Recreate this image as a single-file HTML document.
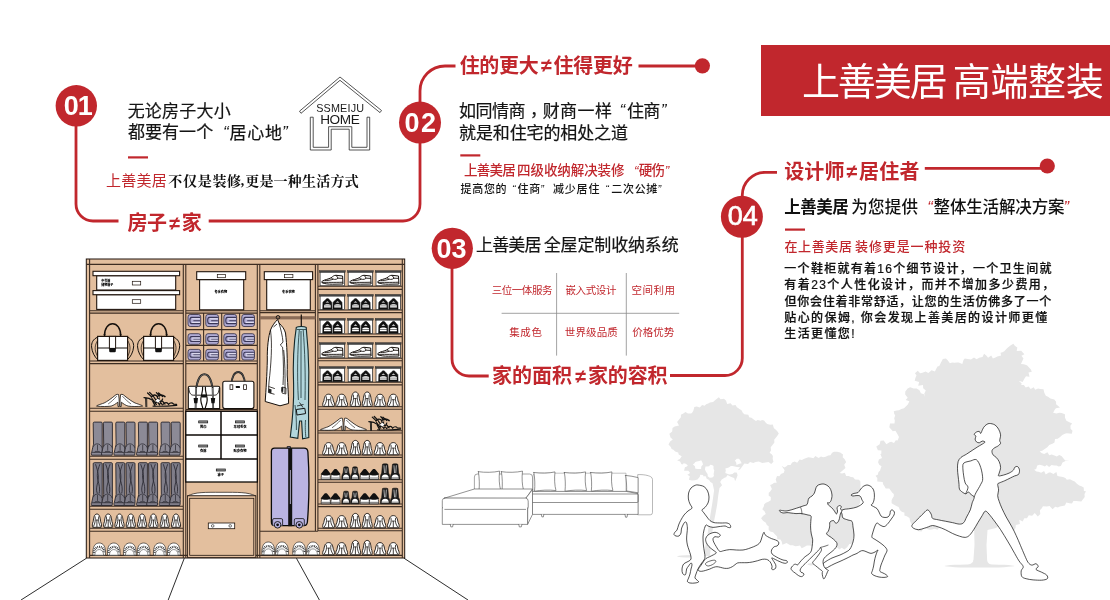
<!DOCTYPE html>
<html lang="zh-CN">
<head>
<meta charset="utf-8">
<title>上善美居 高端整装</title>
<style>
html,body{margin:0;padding:0;background:#fff;}
body{width:1110px;height:600px;overflow:hidden;position:relative;font-family:'Liberation Sans','Noto Sans CJK SC',sans-serif;}
svg{position:absolute;left:0;top:0;display:block;will-change:transform;}
text{font-family:'Liberation Sans','Noto Sans CJK SC',sans-serif;}
.serif{font-family:'Liberation Serif','Noto Serif CJK SC',serif;}
.red{fill:#c1272d;}
.num{fill:#fff;font-weight:700;font-size:25px;text-anchor:middle;}
.h{fill:#c1272d;font-weight:700;font-size:20.2px;}
</style>
</head>
<body>
<svg width="1110" height="600" viewBox="0 0 1110 600">
<rect width="1110" height="600" fill="#fff"/>

<rect x="761" y="45" width="349" height="71" fill="#c1272d"/>
<g fill="none" stroke="#c1272d" stroke-width="2.8">
<path d="M76 106 V204 A17 17 0 0 0 93 221 H118.5"/>
<path d="M208.7 221 H403 A17 17 0 0 0 420 204 V91 A25 25 0 0 1 445 66 H455.5"/>
<path d="M638.5 66 H702"/>
<path d="M452 248 V359 A17 17 0 0 0 469 376 H488.7"/>
<path d="M670 375.5 H725 A17.3 17.3 0 0 0 742.3 358 V195 A23 23 0 0 1 765 172.3 H777"/>
<path d="M924.8 168.3 H1047"/>
</g>
<g fill="#c1272d">
<circle cx="76.3" cy="105.8" r="20.7"/>
<circle cx="420" cy="122.6" r="21"/>
<circle cx="452.3" cy="248.3" r="20.6"/>
<circle cx="741.9" cy="216.8" r="21"/>
<circle cx="702.4" cy="65.8" r="7.6"/>
<circle cx="1047.3" cy="166" r="7.6"/>
<rect x="128" y="156.3" width="20" height="2.2"/>
<rect x="460.3" y="154.3" width="20" height="2.2"/>
<rect x="785" y="228.5" width="20" height="2.2"/>
</g>
<text><tspan x="801.90" y="95.45" font-size="38" letter-spacing="-2.02" fill="#fff">上善美居 </tspan><tspan x="952.75" y="95.32" font-size="38" letter-spacing="-0.33" fill="#fff">高端整装</tspan></text>
<text><tspan x="127.65" y="116.75" font-size="17" letter-spacing="0.23" fill="#141414" stroke="#141414" stroke-width="0.2">无论房子大小</tspan></text>
<text><tspan x="127.90" y="138.45" font-size="17" letter-spacing="0.06" fill="#141414" stroke="#141414" stroke-width="0.2">都要有一个</tspan><tspan x="222.95" y="138.30" font-size="17" font-style="italic" fill="#141414">“</tspan><tspan x="229.60" y="138.50" font-size="17" letter-spacing="0.67" fill="#141414" stroke="#141414" stroke-width="0.2">居心地</tspan><tspan x="281.95" y="138.30" font-size="17" font-style="italic" fill="#141414">”</tspan></text>
<text><tspan x="106.05" y="186.00" font-size="15" letter-spacing="0.22" fill="#c1272d">上善美居 </tspan><tspan x="168.30" y="185.50" font-size="14" font-weight="700" class="serif" letter-spacing="0.70" fill="#111">不仅是装修</tspan><tspan x="240.75" y="185.30" font-size="14" font-weight="700" class="serif" fill="#111">,</tspan><tspan x="245.15" y="185.62" font-size="14" font-weight="700" class="serif" letter-spacing="0.24" fill="#111">更是一种生活方式</tspan></text>
<text><tspan x="458.95" y="117.15" font-size="17" letter-spacing="-0.45" fill="#141414" stroke="#141414" stroke-width="0.2">如同情商</tspan><tspan x="530.10" y="116.30" font-size="17" fill="#141414" stroke="#141414" stroke-width="0.2">，</tspan><tspan x="542.65" y="117.15" font-size="17" letter-spacing="0.45" fill="#141414" stroke="#141414" stroke-width="0.2">财商一样</tspan><tspan x="619.55" y="116.30" font-size="17" font-style="italic" fill="#141414">“</tspan><tspan x="626.95" y="117.15" font-size="17" letter-spacing="-0.65" fill="#141414" stroke="#141414" stroke-width="0.2">住商</tspan><tspan x="660.65" y="116.30" font-size="17" font-style="italic" fill="#141414">”</tspan></text>
<text><tspan x="459.00" y="138.93" font-size="17" letter-spacing="-0.11" fill="#141414" stroke="#141414" stroke-width="0.2">就是和住宅的相处之道</tspan></text>
<text><tspan x="463.95" y="175.15" font-size="13.5" font-weight="500" letter-spacing="-0.77" fill="#c1272d">上善美居 </tspan><tspan x="517.10" y="174.90" font-size="13.5" font-weight="500" letter-spacing="-0.09" fill="#c1272d">四级收纳解决装修</tspan><tspan x="633.90" y="175.30" font-size="13.5" font-style="italic" fill="#c1272d">“</tspan><tspan x="638.70" y="174.90" font-size="13.5" font-weight="500" letter-spacing="-0.70" fill="#c1272d">硬伤</tspan><tspan x="664.70" y="175.30" font-size="13.5" font-style="italic" fill="#c1272d">”</tspan></text>
<text><tspan x="460.55" y="192.62" font-size="11" font-weight="500" letter-spacing="0.67" fill="#141414">提高您的</tspan><tspan x="511.95" y="192.50" font-size="11" font-style="italic" fill="#141414">“</tspan><tspan x="517.60" y="192.62" font-size="11" font-weight="500" letter-spacing="0.60" fill="#141414">住商</tspan><tspan x="540.20" y="192.50" font-size="11" font-style="italic" fill="#141414">”</tspan><tspan x="552.90" y="192.62" font-size="11" font-weight="500" letter-spacing="0.85" fill="#141414">减少居住</tspan><tspan x="605.35" y="192.50" font-size="11" font-style="italic" fill="#141414">“</tspan><tspan x="611.20" y="192.62" font-size="11" font-weight="500" letter-spacing="0.72" fill="#141414">二次公摊</tspan><tspan x="657.60" y="192.50" font-size="11" font-style="italic" fill="#141414">”</tspan></text>
<text><tspan x="476.05" y="251.15" font-size="17" letter-spacing="-0.85" fill="#141414" stroke="#141414" stroke-width="0.2">上善美居 </tspan><tspan x="543.70" y="251.15" font-size="17" letter-spacing="-0.14" fill="#141414" stroke="#141414" stroke-width="0.2">全屋定制收纳系统</tspan></text>
<text><tspan x="491.65" y="293.80" font-size="10.5" letter-spacing="-0.43" fill="#c1272d">三位一体服务</tspan></text>
<text><tspan x="565.50" y="293.68" font-size="10.5" letter-spacing="-0.38" fill="#c1272d">嵌入式设计</tspan></text>
<text><tspan x="631.45" y="293.80" font-size="10.5" letter-spacing="0.53" fill="#c1272d">空间利用</tspan></text>
<text><tspan x="509.30" y="336.00" font-size="10.5" letter-spacing="0.55" fill="#c1272d">集成色</tspan></text>
<text><tspan x="564.80" y="336.00" font-size="10.5" letter-spacing="0.12" fill="#c1272d">世界级品质</tspan></text>
<text><tspan x="632.20" y="335.88" font-size="10.5" fill="#c1272d">价格优势</tspan></text>
<text><tspan x="784.25" y="212.90" font-size="16.5" font-weight="700" letter-spacing="-0.48" fill="#111">上善美居 </tspan><tspan x="851.20" y="213.02" font-size="16.5" font-weight="500" letter-spacing="0.30" fill="#111">为您提供</tspan><tspan x="927.25" y="213.00" font-size="16.5" font-style="italic" fill="#c1272d">“</tspan><tspan x="933.55" y="213.02" font-size="16.5" font-weight="500" letter-spacing="-0.15" fill="#111">整体生活解决方案</tspan><tspan x="1063.55" y="213.00" font-size="16.5" font-style="italic" fill="#c1272d">”</tspan></text>
<text><tspan x="784.40" y="250.50" font-size="13" font-weight="500" letter-spacing="0.66" fill="#c1272d">在上善美居 </tspan><tspan x="855.00" y="250.50" font-size="13" font-weight="500" letter-spacing="0.88" fill="#c1272d">装修更是一种投资</tspan></text>
<text><tspan x="784.30" y="273.20" font-size="12" font-weight="500" letter-spacing="1.29" fill="#111" stroke="#111" stroke-width="0.22">一个鞋柜就有着16个细节设计，一个卫生间就</tspan><tspan x="784.30" y="289.40" font-size="12" font-weight="500" letter-spacing="1.43" fill="#111" stroke="#111" stroke-width="0.22">有着23个人性化设计，而并不增加多少费用，</tspan><tspan x="784.55" y="305.60" font-size="12" font-weight="500" letter-spacing="0.73" fill="#111" stroke="#111" stroke-width="0.22">但你会住着非常舒适，让您的生活仿佛多了一个</tspan><tspan x="784.30" y="321.80" font-size="12" font-weight="500" letter-spacing="1.41" fill="#111" stroke="#111" stroke-width="0.22">贴心的保姆, 你会发现上善美居的设计师更懂</tspan><tspan x="784.30" y="338.00" font-size="12" font-weight="500" letter-spacing="1.37" fill="#111" stroke="#111" stroke-width="0.22">生活更懂您!</tspan></text>
<text><tspan x="316.20" y="111.82" font-size="10.8" letter-spacing="0.18" fill="#1a1a1a">SSMEIJU</tspan></text>
<text><tspan x="320.20" y="124.20" font-size="13.6" letter-spacing="-0.42" fill="#1a1a1a">HOME</tspan></text>
<text><tspan x="63.80" y="114.55" font-size="27" font-weight="700" fill="#fff">0</tspan><tspan x="77.75" y="114.55" font-size="27" font-weight="700" fill="#fff">1</tspan></text>
<text><tspan x="404.40" y="131.75" font-size="27" font-weight="700" letter-spacing="1.50" fill="#fff">02</tspan></text>
<text><tspan x="436.60" y="257.65" font-size="27" font-weight="700" letter-spacing="-0.10" fill="#fff">03</tspan></text>
<text><tspan x="727.80" y="225.20" font-size="27" letter-spacing="-0.15" fill="#fff" stroke="#fff" stroke-width="0.7">04</tspan></text>
<text><tspan x="127.50" y="229.88" font-size="20" font-weight="700" letter-spacing="-0.55" fill="#c1272d">房子</tspan><tspan x="168.80" y="229.90" font-size="19.5" font-weight="700" font-style="italic" fill="#c1272d">≠</tspan><tspan x="181.70" y="230.00" font-size="20" font-weight="700" fill="#c1272d">家</tspan></text>
<text><tspan x="459.70" y="73.08" font-size="20" font-weight="700" letter-spacing="-0.35" fill="#c1272d">住的更大</tspan><tspan x="540.50" y="72.40" font-size="19.5" font-weight="700" font-style="italic" fill="#c1272d">≠</tspan><tspan x="553.50" y="73.08" font-size="20" font-weight="700" letter-spacing="-0.27" fill="#c1272d">住得更好</tspan></text>
<text><tspan x="492.00" y="383.10" font-size="20" font-weight="700" letter-spacing="-0.03" fill="#c1272d">家的面积</tspan><tspan x="574.70" y="382.50" font-size="19.5" font-weight="700" font-style="italic" fill="#c1272d">≠</tspan><tspan x="587.90" y="383.10" font-size="20" font-weight="700" letter-spacing="-0.13" fill="#c1272d">家的容积</tspan></text>
<text><tspan x="784.25" y="178.58" font-size="20" font-weight="700" letter-spacing="0.12" fill="#c1272d">设计师</tspan><tspan x="845.90" y="178.20" font-size="19.5" font-weight="700" font-style="italic" fill="#c1272d">≠</tspan><tspan x="858.90" y="178.58" font-size="20" font-weight="700" letter-spacing="0.30" fill="#c1272d">居住者</tspan></text>
<g stroke="#8c8c8c" stroke-width="0.8" fill="none"><path d="M556.6 273V355.6M626.3 273V355.6M501.6 313.3H679.2"/></g>
<g fill="#fff" stroke="#2a2a2a" stroke-width="0.8" stroke-linejoin="miter">
<path d="M340 77 L381.5 110.5 L380 112.6 L340 80.3 L301 113.3 L299.5 111.2 Z"/>
<path d="M310.3 117.2 V150 H331.2 V129.2 H349.2 V150 H369.7 V117.2 H367 V147.3 H351.8 V126.7 H328.6 V147.3 H313.2 V117.2 Z"/>
</g>
<g id="wardrobe" stroke-linejoin="miter">
<rect x="86.3" y="259" width="318.4" height="299" fill="#e3bf9e" stroke="#20150e" stroke-width="1.0"/>
<path d="M86.3 264.4 H404.7 M89.6 259 V558 M402.3 259 V558 M89.6 555.4 H402.3 M183.3 264.4 V558 M185.8 264.4 V558 M257.3 264.4 V558 M259.8 264.4 V558 M315.4 264.4 V531.3 M317.9 264.4 V531.3 M89.6 310.7 H183.3 M89.6 313.1 H183.3 M89.6 361 H183.3 M89.6 363.6 H183.3 M89.6 408.2 H183.3 M89.6 411.2 H183.3 M89.6 456.2 H183.3 M89.6 459.2 H183.3 M89.6 506.3 H183.3 M89.6 509.3 H183.3 M89.6 528.2 H183.3 M89.6 531.2 H183.3 M185.8 310.7 H257.3 M185.8 313.1 H257.3 M185.8 361 H257.3 M185.8 363.6 H257.3 M185.8 409.6 H257.3 M185.8 329.6 H257.3 M185.8 345.4 H257.3 M203.6 313.1 V361 M221.7 313.1 V361 M239.6 313.1 V361 M259.8 310.7 H315.4 M259.8 312.6 H315.4 M259.8 531.3 H317.9 M317.9 286.2 H402.3 M317.9 289.4 H402.3 M317.9 310 H402.3 M317.9 312.6 H402.3 M317.9 334 H402.3 M317.9 336.6 H402.3 M317.9 358.2 H402.3 M317.9 360.8 H402.3 M317.9 382.3 H402.3 M317.9 384.9 H402.3 M317.9 406.8 H402.3 M317.9 409.2 H402.3 M317.9 430.8 H402.3 M317.9 433 H402.3 M317.9 455 H402.3 M317.9 457.4 H402.3 M317.9 479.7 H402.3 M317.9 482.2 H402.3 M317.9 504 H402.3 M317.9 506.6 H402.3 M317.9 528.2 H402.3 M317.9 530.8 H402.3" fill="none" stroke="#3d2d22" stroke-width="1.1"/>
<rect x="259.8" y="316.2" width="55.6" height="3.2" fill="#8b6c57"/>
<rect x="96.7" y="275.7" width="79" height="14.3" fill="#fff" stroke="#20150e" stroke-width="1.1"/><rect x="93" y="271.3" width="86.6" height="4.4" fill="#fff" stroke="#20150e" stroke-width="1.1"/><rect x="132.3" y="281.3" width="8.4" height="3.7" fill="#fff" stroke="#20150e" stroke-width="0.7"/>
<text font-size="3" font-weight="900" fill="#000"><tspan x="101.3" y="282.4">中号箱</tspan><tspan x="101.3" y="286.2">储物箱子</tspan></text>
<rect x="96.7" y="294.7" width="79" height="14.7" fill="#fff" stroke="#20150e" stroke-width="1.1"/><rect x="93" y="290.6" width="86.6" height="4.1" fill="#fff" stroke="#20150e" stroke-width="1.1"/><rect x="132.3" y="299.7" width="8.4" height="3.6" fill="#fff" stroke="#20150e" stroke-width="0.7"/>
<rect x="199.6" y="279.6" width="44.1" height="30.2" fill="#fff" stroke="#20150e" stroke-width="1.1"/><rect x="196.7" y="271.7" width="49" height="7.9" fill="#fff" stroke="#20150e" stroke-width="1.1"/><rect x="217.3" y="274.4" width="8.3" height="3.3" fill="#fff" stroke="#20150e" stroke-width="0.7"/><text x="220.8" y="293.4" font-size="3.2" font-weight="900" fill="#000" text-anchor="middle">冬季衣物</text>
<rect x="266.7" y="279.6" width="43.6" height="30.2" fill="#fff" stroke="#20150e" stroke-width="1.1"/><rect x="264.3" y="271.7" width="48.3" height="7.9" fill="#fff" stroke="#20150e" stroke-width="1.1"/><rect x="284.6" y="274.4" width="8.3" height="3.3" fill="#fff" stroke="#20150e" stroke-width="0.7"/><text x="288.4" y="293.4" font-size="3.2" font-weight="900" fill="#000" text-anchor="middle">冬季衣物</text>
<path d="M97.6 337.2 C93.1 339 91.2 343 91.6 347 C92 352 94.6 357 97.6 359.4 M127.6 337.2 C132.1 339 134 343 133.6 347 C133.2 352 130.6 357 127.6 359.4" fill="none" stroke="#15100c" stroke-width="1.0"/><path d="M97.6 340.5 C94.8 345 94 350 97.6 356.5 M127.6 340.5 C130.4 345 131.2 350 127.6 356.5" fill="none" stroke="#15100c" stroke-width="0.7"/><path d="M104.5 336.2 C104.1 319.6 121.1 319.6 120.7 336.2" fill="none" stroke="#15100c" stroke-width="1.5"/><path d="M103.5 334.6 H105.5 M119.7 334.6 H121.7" fill="none" stroke="#15100c" stroke-width="0.8"/><rect x="97.6" y="336.4" width="30" height="24" fill="#fff" stroke="#20150e" stroke-width="1.2"/><path d="M97.6 348 H127.6" fill="none" stroke="#15100c" stroke-width="1.0"/><rect x="109.4" y="336.4" width="6.2" height="12" fill="#fff" stroke="#20150e" stroke-width="1.0"/><rect x="109.2" y="348" width="6.6" height="4.2" rx="1.2" fill="#111"/>
<path d="M143.6 337.2 C139.1 339 137.2 343 137.6 347 C138 352 140.6 357 143.6 359.4 M173.6 337.2 C178.1 339 180 343 179.6 347 C179.2 352 176.6 357 173.6 359.4" fill="none" stroke="#15100c" stroke-width="1.0"/><path d="M143.6 340.5 C140.8 345 140 350 143.6 356.5 M173.6 340.5 C176.4 345 177.2 350 173.6 356.5" fill="none" stroke="#15100c" stroke-width="0.7"/><path d="M150.5 336.2 C150.1 319.6 167.1 319.6 166.7 336.2" fill="none" stroke="#15100c" stroke-width="1.5"/><path d="M149.5 334.6 H151.5 M165.7 334.6 H167.7" fill="none" stroke="#15100c" stroke-width="0.8"/><rect x="143.6" y="336.4" width="30" height="24" fill="#fff" stroke="#20150e" stroke-width="1.2"/><path d="M143.6 348 H173.6" fill="none" stroke="#15100c" stroke-width="1.0"/><rect x="155.4" y="336.4" width="6.2" height="12" fill="#fff" stroke="#20150e" stroke-width="1.0"/><rect x="155.2" y="348" width="6.6" height="4.2" rx="1.2" fill="#111"/>
<g transform="translate(96.5 406.6)"><g><path d="M0 -0.5 C0.4 -1.2 3 -2 7.6 -3.6 C10.5 -5 14 -7.4 19.4 -11.8 Q20.6 -12.6 22.1 -12.1 C22.6 -9 22.7 -6 22.7 -3.6 L22.7 0 H21.5 L21.3 -4.4 C19.5 -3 17.2 -1.2 14.6 -0.5 C11 0 5 0.1 0 -0.5 Z" fill="#fff" stroke="#15100c" stroke-width="0.8"/><path d="M11.6 -2.6 C14.5 -4.6 17.5 -7.4 20.3 -10.4" fill="none" stroke="#15100c" stroke-width="0.6"/></g><g transform="translate(46.2 0) scale(-1 1)"><path d="M0 -0.5 C0.4 -1.2 3 -2 7.6 -3.6 C10.5 -5 14 -7.4 19.4 -11.8 Q20.6 -12.6 22.1 -12.1 C22.6 -9 22.7 -6 22.7 -3.6 L22.7 0 H21.5 L21.3 -4.4 C19.5 -3 17.2 -1.2 14.6 -0.5 C11 0 5 0.1 0 -0.5 Z" fill="#fff" stroke="#15100c" stroke-width="0.8"/><path d="M11.6 -2.6 C14.5 -4.6 17.5 -7.4 20.3 -10.4" fill="none" stroke="#15100c" stroke-width="0.6"/></g></g>
<g transform="translate(144 407)" fill="none" stroke="#111" stroke-linecap="round"><path d="M0 -9.4 L5 -8.6 L8 -7" stroke-width="1.2"/><path d="M1.6 -9 L1.9 -0.3 M2.7 -8.8 L2.8 -0.3" stroke-width="0.9"/><path d="M3.6 -14 L7.4 -10.4 M5.6 -14.6 L9.6 -10.6 M12.4 -14.4 L15.6 -11 M14.6 -14 L18.6 -10.4" stroke-width="1.3"/><path d="M7.4 -10 C9 -12.4 11.6 -12.6 13.4 -10.4 C15 -12.6 18.4 -12.6 21 -10.4" stroke-width="1.5"/><path d="M8 -8.4 L12.4 -2.6 M10 -9.6 L15.6 -2 M13.4 -9.4 L18.4 -2.2 M11 -3 L15.4 -9 M15.6 -2.6 L18.6 -8 M8.6 -6 L11 -1.2 M18 -6.4 L21 -3" stroke-width="1.2"/><path d="M19.4 -2.8 C21 -5.2 23.4 -4.8 24.6 -2.6 C26 -4.6 28.4 -4.4 29.6 -2.8 L32.6 -2.6" stroke-width="1.2"/><path d="M9 -0.9 C16 -0.4 26 -1 32.8 -1.6" stroke-width="1.1"/><path d="M11 -6 L14 -4 L16.6 -6.4 L14 -8.4 Z" fill="#fff" stroke-width="0.5"/></g>
<g transform="translate(93.1 422.1)"><path d="M0.1 1.1 Q0.1 0 1.2 0 H8 Q9.1 0 9.1 1.1 V27.1 C9.3 29.1 9.2 31.1 8.8 33.1 L-1.5 33.1 C-2 31.5 -1.8 30.5 -1.3 29.9 C-0.8 27.1 0 24.1 0.4 22.1 Z" fill="#8c8a96" stroke="#26252c" stroke-width="0.9"/><path d="M0.3 24.6 C1.5 20.6 7 20.6 8.9 25.6 M-1.2 30.3 H8.8 M4.4 22.6 V28.5 M1.6 30.3 L2.2 29.3 H6.2 L6.8 30.3" fill="none" stroke="#26252c" stroke-width="0.7"/></g>
<g transform="translate(103.3 422.1)"><path d="M0.1 1.1 Q0.1 0 1.2 0 H8 Q9.1 0 9.1 1.1 V27.1 C9.3 29.1 9.2 31.1 8.8 33.1 L-1.5 33.1 C-2 31.5 -1.8 30.5 -1.3 29.9 C-0.8 27.1 0 24.1 0.4 22.1 Z" fill="#8c8a96" stroke="#26252c" stroke-width="0.9"/><path d="M0.3 24.6 C1.5 20.6 7 20.6 8.9 25.6 M-1.2 30.3 H8.8 M4.4 22.6 V28.5 M1.6 30.3 L2.2 29.3 H6.2 L6.8 30.3" fill="none" stroke="#26252c" stroke-width="0.7"/></g>
<g transform="translate(115.7 422.1)"><path d="M0.1 1.1 Q0.1 0 1.2 0 H8 Q9.1 0 9.1 1.1 V27.1 C9.3 29.1 9.2 31.1 8.8 33.1 L-1.5 33.1 C-2 31.5 -1.8 30.5 -1.3 29.9 C-0.8 27.1 0 24.1 0.4 22.1 Z" fill="#8c8a96" stroke="#26252c" stroke-width="0.9"/><path d="M0.3 24.6 C1.5 20.6 7 20.6 8.9 25.6 M-1.2 30.3 H8.8 M4.4 22.6 V28.5 M1.6 30.3 L2.2 29.3 H6.2 L6.8 30.3" fill="none" stroke="#26252c" stroke-width="0.7"/></g>
<g transform="translate(125.9 422.1)"><path d="M0.1 1.1 Q0.1 0 1.2 0 H8 Q9.1 0 9.1 1.1 V27.1 C9.3 29.1 9.2 31.1 8.8 33.1 L-1.5 33.1 C-2 31.5 -1.8 30.5 -1.3 29.9 C-0.8 27.1 0 24.1 0.4 22.1 Z" fill="#8c8a96" stroke="#26252c" stroke-width="0.9"/><path d="M0.3 24.6 C1.5 20.6 7 20.6 8.9 25.6 M-1.2 30.3 H8.8 M4.4 22.6 V28.5 M1.6 30.3 L2.2 29.3 H6.2 L6.8 30.3" fill="none" stroke="#26252c" stroke-width="0.7"/></g>
<g transform="translate(138.3 422.1)"><path d="M0.1 1.1 Q0.1 0 1.2 0 H8 Q9.1 0 9.1 1.1 V27.1 C9.3 29.1 9.2 31.1 8.8 33.1 L-1.5 33.1 C-2 31.5 -1.8 30.5 -1.3 29.9 C-0.8 27.1 0 24.1 0.4 22.1 Z" fill="#8c8a96" stroke="#26252c" stroke-width="0.9"/><path d="M0.3 24.6 C1.5 20.6 7 20.6 8.9 25.6 M-1.2 30.3 H8.8 M4.4 22.6 V28.5 M1.6 30.3 L2.2 29.3 H6.2 L6.8 30.3" fill="none" stroke="#26252c" stroke-width="0.7"/></g>
<g transform="translate(148.5 422.1)"><path d="M0.1 1.1 Q0.1 0 1.2 0 H8 Q9.1 0 9.1 1.1 V27.1 C9.3 29.1 9.2 31.1 8.8 33.1 L-1.5 33.1 C-2 31.5 -1.8 30.5 -1.3 29.9 C-0.8 27.1 0 24.1 0.4 22.1 Z" fill="#8c8a96" stroke="#26252c" stroke-width="0.9"/><path d="M0.3 24.6 C1.5 20.6 7 20.6 8.9 25.6 M-1.2 30.3 H8.8 M4.4 22.6 V28.5 M1.6 30.3 L2.2 29.3 H6.2 L6.8 30.3" fill="none" stroke="#26252c" stroke-width="0.7"/></g>
<g transform="translate(160.9 422.1)"><path d="M0.1 1.1 Q0.1 0 1.2 0 H8 Q9.1 0 9.1 1.1 V27.1 C9.3 29.1 9.2 31.1 8.8 33.1 L-1.5 33.1 C-2 31.5 -1.8 30.5 -1.3 29.9 C-0.8 27.1 0 24.1 0.4 22.1 Z" fill="#8c8a96" stroke="#26252c" stroke-width="0.9"/><path d="M0.3 24.6 C1.5 20.6 7 20.6 8.9 25.6 M-1.2 30.3 H8.8 M4.4 22.6 V28.5 M1.6 30.3 L2.2 29.3 H6.2 L6.8 30.3" fill="none" stroke="#26252c" stroke-width="0.7"/></g>
<g transform="translate(171.1 422.1)"><path d="M0.1 1.1 Q0.1 0 1.2 0 H8 Q9.1 0 9.1 1.1 V27.1 C9.3 29.1 9.2 31.1 8.8 33.1 L-1.5 33.1 C-2 31.5 -1.8 30.5 -1.3 29.9 C-0.8 27.1 0 24.1 0.4 22.1 Z" fill="#8c8a96" stroke="#26252c" stroke-width="0.9"/><path d="M0.3 24.6 C1.5 20.6 7 20.6 8.9 25.6 M-1.2 30.3 H8.8 M4.4 22.6 V28.5 M1.6 30.3 L2.2 29.3 H6.2 L6.8 30.3" fill="none" stroke="#26252c" stroke-width="0.7"/></g>
<g transform="translate(93.1 462.7)"><path d="M0.1 1.1 Q0.1 0 1.2 0 H8 Q9.1 0 9.1 1.1 V36.8 C9.3 38.8 9.2 40.8 8.8 42.8 L-1.5 42.8 C-2 41.2 -1.8 40.2 -1.3 39.6 C-0.8 36.8 0 33.8 0.4 31.8 Z" fill="#7f7d89" stroke="#26252c" stroke-width="0.9"/><path d="M0.3 34.3 C1.5 30.3 7 30.3 8.9 35.3 M-1.2 40 H8.8 M4.4 32.3 V38.2 M1.6 40 L2.2 39 H6.2 L6.8 40" fill="none" stroke="#26252c" stroke-width="0.7"/><path d="M2.4 1.5 C5.2 9.42 6.2 14.55 4 22.26 C3 26.54 3.4 29.1 4.4 30.8 M6.8 1.5 C4.2 8.56 3.2 12.84 5.6 20.54 C6.8 24.82 6.6 28.25 6 30.8" fill="none" stroke="#2e2d36" stroke-width="0.9"/></g>
<g transform="translate(103.3 462.7)"><path d="M0.1 1.1 Q0.1 0 1.2 0 H8 Q9.1 0 9.1 1.1 V36.8 C9.3 38.8 9.2 40.8 8.8 42.8 L-1.5 42.8 C-2 41.2 -1.8 40.2 -1.3 39.6 C-0.8 36.8 0 33.8 0.4 31.8 Z" fill="#7f7d89" stroke="#26252c" stroke-width="0.9"/><path d="M0.3 34.3 C1.5 30.3 7 30.3 8.9 35.3 M-1.2 40 H8.8 M4.4 32.3 V38.2 M1.6 40 L2.2 39 H6.2 L6.8 40" fill="none" stroke="#26252c" stroke-width="0.7"/><path d="M2.4 1.5 C5.2 9.42 6.2 14.55 4 22.26 C3 26.54 3.4 29.1 4.4 30.8 M6.8 1.5 C4.2 8.56 3.2 12.84 5.6 20.54 C6.8 24.82 6.6 28.25 6 30.8" fill="none" stroke="#2e2d36" stroke-width="0.9"/></g>
<g transform="translate(115.7 462.7)"><path d="M0.1 1.1 Q0.1 0 1.2 0 H8 Q9.1 0 9.1 1.1 V36.8 C9.3 38.8 9.2 40.8 8.8 42.8 L-1.5 42.8 C-2 41.2 -1.8 40.2 -1.3 39.6 C-0.8 36.8 0 33.8 0.4 31.8 Z" fill="#7f7d89" stroke="#26252c" stroke-width="0.9"/><path d="M0.3 34.3 C1.5 30.3 7 30.3 8.9 35.3 M-1.2 40 H8.8 M4.4 32.3 V38.2 M1.6 40 L2.2 39 H6.2 L6.8 40" fill="none" stroke="#26252c" stroke-width="0.7"/><path d="M2.4 1.5 C5.2 9.42 6.2 14.55 4 22.26 C3 26.54 3.4 29.1 4.4 30.8 M6.8 1.5 C4.2 8.56 3.2 12.84 5.6 20.54 C6.8 24.82 6.6 28.25 6 30.8" fill="none" stroke="#2e2d36" stroke-width="0.9"/></g>
<g transform="translate(125.9 462.7)"><path d="M0.1 1.1 Q0.1 0 1.2 0 H8 Q9.1 0 9.1 1.1 V36.8 C9.3 38.8 9.2 40.8 8.8 42.8 L-1.5 42.8 C-2 41.2 -1.8 40.2 -1.3 39.6 C-0.8 36.8 0 33.8 0.4 31.8 Z" fill="#7f7d89" stroke="#26252c" stroke-width="0.9"/><path d="M0.3 34.3 C1.5 30.3 7 30.3 8.9 35.3 M-1.2 40 H8.8 M4.4 32.3 V38.2 M1.6 40 L2.2 39 H6.2 L6.8 40" fill="none" stroke="#26252c" stroke-width="0.7"/><path d="M2.4 1.5 C5.2 9.42 6.2 14.55 4 22.26 C3 26.54 3.4 29.1 4.4 30.8 M6.8 1.5 C4.2 8.56 3.2 12.84 5.6 20.54 C6.8 24.82 6.6 28.25 6 30.8" fill="none" stroke="#2e2d36" stroke-width="0.9"/></g>
<g transform="translate(138.3 462.7)"><path d="M0.1 1.1 Q0.1 0 1.2 0 H8 Q9.1 0 9.1 1.1 V36.8 C9.3 38.8 9.2 40.8 8.8 42.8 L-1.5 42.8 C-2 41.2 -1.8 40.2 -1.3 39.6 C-0.8 36.8 0 33.8 0.4 31.8 Z" fill="#7f7d89" stroke="#26252c" stroke-width="0.9"/><path d="M0.3 34.3 C1.5 30.3 7 30.3 8.9 35.3 M-1.2 40 H8.8 M4.4 32.3 V38.2 M1.6 40 L2.2 39 H6.2 L6.8 40" fill="none" stroke="#26252c" stroke-width="0.7"/><path d="M2.4 1.5 C5.2 9.42 6.2 14.55 4 22.26 C3 26.54 3.4 29.1 4.4 30.8 M6.8 1.5 C4.2 8.56 3.2 12.84 5.6 20.54 C6.8 24.82 6.6 28.25 6 30.8" fill="none" stroke="#2e2d36" stroke-width="0.9"/></g>
<g transform="translate(148.5 462.7)"><path d="M0.1 1.1 Q0.1 0 1.2 0 H8 Q9.1 0 9.1 1.1 V36.8 C9.3 38.8 9.2 40.8 8.8 42.8 L-1.5 42.8 C-2 41.2 -1.8 40.2 -1.3 39.6 C-0.8 36.8 0 33.8 0.4 31.8 Z" fill="#7f7d89" stroke="#26252c" stroke-width="0.9"/><path d="M0.3 34.3 C1.5 30.3 7 30.3 8.9 35.3 M-1.2 40 H8.8 M4.4 32.3 V38.2 M1.6 40 L2.2 39 H6.2 L6.8 40" fill="none" stroke="#26252c" stroke-width="0.7"/><path d="M2.4 1.5 C5.2 9.42 6.2 14.55 4 22.26 C3 26.54 3.4 29.1 4.4 30.8 M6.8 1.5 C4.2 8.56 3.2 12.84 5.6 20.54 C6.8 24.82 6.6 28.25 6 30.8" fill="none" stroke="#2e2d36" stroke-width="0.9"/></g>
<g transform="translate(160.9 462.7)"><path d="M0.1 1.1 Q0.1 0 1.2 0 H8 Q9.1 0 9.1 1.1 V36.8 C9.3 38.8 9.2 40.8 8.8 42.8 L-1.5 42.8 C-2 41.2 -1.8 40.2 -1.3 39.6 C-0.8 36.8 0 33.8 0.4 31.8 Z" fill="#7f7d89" stroke="#26252c" stroke-width="0.9"/><path d="M0.3 34.3 C1.5 30.3 7 30.3 8.9 35.3 M-1.2 40 H8.8 M4.4 32.3 V38.2 M1.6 40 L2.2 39 H6.2 L6.8 40" fill="none" stroke="#26252c" stroke-width="0.7"/><path d="M2.4 1.5 C5.2 9.42 6.2 14.55 4 22.26 C3 26.54 3.4 29.1 4.4 30.8 M6.8 1.5 C4.2 8.56 3.2 12.84 5.6 20.54 C6.8 24.82 6.6 28.25 6 30.8" fill="none" stroke="#2e2d36" stroke-width="0.9"/></g>
<g transform="translate(171.1 462.7)"><path d="M0.1 1.1 Q0.1 0 1.2 0 H8 Q9.1 0 9.1 1.1 V36.8 C9.3 38.8 9.2 40.8 8.8 42.8 L-1.5 42.8 C-2 41.2 -1.8 40.2 -1.3 39.6 C-0.8 36.8 0 33.8 0.4 31.8 Z" fill="#7f7d89" stroke="#26252c" stroke-width="0.9"/><path d="M0.3 34.3 C1.5 30.3 7 30.3 8.9 35.3 M-1.2 40 H8.8 M4.4 32.3 V38.2 M1.6 40 L2.2 39 H6.2 L6.8 40" fill="none" stroke="#26252c" stroke-width="0.7"/><path d="M2.4 1.5 C5.2 9.42 6.2 14.55 4 22.26 C3 26.54 3.4 29.1 4.4 30.8 M6.8 1.5 C4.2 8.56 3.2 12.84 5.6 20.54 C6.8 24.82 6.6 28.25 6 30.8" fill="none" stroke="#2e2d36" stroke-width="0.9"/></g>
<g transform="translate(92.3 514)"><path d="M4.6 0 C7.36 0 7.91 3.99 8.28 7.32 C9.38 9.98 9.38 12.24 8.83 13.3 L0.37 13.3 C-0.18 12.24 -0.18 9.98 0.92 7.32 C1.29 3.99 1.84 0 4.6 0 Z" fill="#fff" stroke="#15100c" stroke-width="0.9"/><path d="M2.76 2.39 C3.31 6.65 2.76 9.31 1.1 12.63 M6.44 2.39 C5.89 6.65 6.44 9.31 8.1 12.63 M3.5 5.99 H5.7 M4.6 5.99 V13.03" fill="none" stroke="#15100c" stroke-width="0.8"/></g>
<g transform="translate(103.6 514)"><path d="M4.6 0 C7.36 0 7.91 3.99 8.28 7.32 C9.38 9.98 9.38 12.24 8.83 13.3 L0.37 13.3 C-0.18 12.24 -0.18 9.98 0.92 7.32 C1.29 3.99 1.84 0 4.6 0 Z" fill="#fff" stroke="#15100c" stroke-width="0.9"/><path d="M2.76 2.39 C3.31 6.65 2.76 9.31 1.1 12.63 M6.44 2.39 C5.89 6.65 6.44 9.31 8.1 12.63 M3.5 5.99 H5.7 M4.6 5.99 V13.03" fill="none" stroke="#15100c" stroke-width="0.8"/></g>
<g transform="translate(114.9 514)"><path d="M4.6 0 C7.36 0 7.91 3.99 8.28 7.32 C9.38 9.98 9.38 12.24 8.83 13.3 L0.37 13.3 C-0.18 12.24 -0.18 9.98 0.92 7.32 C1.29 3.99 1.84 0 4.6 0 Z" fill="#fff" stroke="#15100c" stroke-width="0.9"/><path d="M2.76 2.39 C3.31 6.65 2.76 9.31 1.1 12.63 M6.44 2.39 C5.89 6.65 6.44 9.31 8.1 12.63 M3.5 5.99 H5.7 M4.6 5.99 V13.03" fill="none" stroke="#15100c" stroke-width="0.8"/></g>
<g transform="translate(126.2 514)"><path d="M4.6 0 C7.36 0 7.91 3.99 8.28 7.32 C9.38 9.98 9.38 12.24 8.83 13.3 L0.37 13.3 C-0.18 12.24 -0.18 9.98 0.92 7.32 C1.29 3.99 1.84 0 4.6 0 Z" fill="#fff" stroke="#15100c" stroke-width="0.9"/><path d="M2.76 2.39 C3.31 6.65 2.76 9.31 1.1 12.63 M6.44 2.39 C5.89 6.65 6.44 9.31 8.1 12.63 M3.5 5.99 H5.7 M4.6 5.99 V13.03" fill="none" stroke="#15100c" stroke-width="0.8"/></g>
<g transform="translate(137.5 514)"><path d="M4.6 0 C7.36 0 7.91 3.99 8.28 7.32 C9.38 9.98 9.38 12.24 8.83 13.3 L0.37 13.3 C-0.18 12.24 -0.18 9.98 0.92 7.32 C1.29 3.99 1.84 0 4.6 0 Z" fill="#fff" stroke="#15100c" stroke-width="0.9"/><path d="M2.76 2.39 C3.31 6.65 2.76 9.31 1.1 12.63 M6.44 2.39 C5.89 6.65 6.44 9.31 8.1 12.63 M3.5 5.99 H5.7 M4.6 5.99 V13.03" fill="none" stroke="#15100c" stroke-width="0.8"/></g>
<g transform="translate(148.8 514)"><path d="M4.6 0 C7.36 0 7.91 3.99 8.28 7.32 C9.38 9.98 9.38 12.24 8.83 13.3 L0.37 13.3 C-0.18 12.24 -0.18 9.98 0.92 7.32 C1.29 3.99 1.84 0 4.6 0 Z" fill="#fff" stroke="#15100c" stroke-width="0.9"/><path d="M2.76 2.39 C3.31 6.65 2.76 9.31 1.1 12.63 M6.44 2.39 C5.89 6.65 6.44 9.31 8.1 12.63 M3.5 5.99 H5.7 M4.6 5.99 V13.03" fill="none" stroke="#15100c" stroke-width="0.8"/></g>
<g transform="translate(160.1 514)"><path d="M4.6 0 C7.36 0 7.91 3.99 8.28 7.32 C9.38 9.98 9.38 12.24 8.83 13.3 L0.37 13.3 C-0.18 12.24 -0.18 9.98 0.92 7.32 C1.29 3.99 1.84 0 4.6 0 Z" fill="#fff" stroke="#15100c" stroke-width="0.9"/><path d="M2.76 2.39 C3.31 6.65 2.76 9.31 1.1 12.63 M6.44 2.39 C5.89 6.65 6.44 9.31 8.1 12.63 M3.5 5.99 H5.7 M4.6 5.99 V13.03" fill="none" stroke="#15100c" stroke-width="0.8"/></g>
<g transform="translate(171.4 514)"><path d="M4.6 0 C7.36 0 7.91 3.99 8.28 7.32 C9.38 9.98 9.38 12.24 8.83 13.3 L0.37 13.3 C-0.18 12.24 -0.18 9.98 0.92 7.32 C1.29 3.99 1.84 0 4.6 0 Z" fill="#fff" stroke="#15100c" stroke-width="0.9"/><path d="M2.76 2.39 C3.31 6.65 2.76 9.31 1.1 12.63 M6.44 2.39 C5.89 6.65 6.44 9.31 8.1 12.63 M3.5 5.99 H5.7 M4.6 5.99 V13.03" fill="none" stroke="#15100c" stroke-width="0.8"/></g>
<g transform="translate(92.7 543)"><path d="M0.2 12.2 C-0.39 3.66 2.34 0 6.5 0 C10.66 0 13.39 3.66 12.8 12.2 Z" fill="#fff" stroke="#111" stroke-width="0.6"/><path d="M1.3 9.76 C1.3 1.95 11.7 1.95 11.7 9.76" fill="none" stroke="#2a2a2a" stroke-width="2.3" stroke-dasharray="0.8 0.9"/><path d="M2.08 12.2 C2.21 4.64 10.79 4.64 10.92 12.2 Z" fill="#fff" stroke="#222" stroke-width="0.5"/></g>
<g transform="translate(107.3 543)"><path d="M0.2 12.2 C-0.39 3.66 2.34 0 6.5 0 C10.66 0 13.39 3.66 12.8 12.2 Z" fill="#fff" stroke="#111" stroke-width="0.6"/><path d="M1.3 9.76 C1.3 1.95 11.7 1.95 11.7 9.76" fill="none" stroke="#2a2a2a" stroke-width="2.3" stroke-dasharray="0.8 0.9"/><path d="M2.08 12.2 C2.21 4.64 10.79 4.64 10.92 12.2 Z" fill="#fff" stroke="#222" stroke-width="0.5"/></g>
<g transform="translate(123.3 543)"><path d="M0.2 12.2 C-0.39 3.66 2.34 0 6.5 0 C10.66 0 13.39 3.66 12.8 12.2 Z" fill="#fff" stroke="#111" stroke-width="0.6"/><path d="M1.3 9.76 C1.3 1.95 11.7 1.95 11.7 9.76" fill="none" stroke="#2a2a2a" stroke-width="2.3" stroke-dasharray="0.8 0.9"/><path d="M2.08 12.2 C2.21 4.64 10.79 4.64 10.92 12.2 Z" fill="#fff" stroke="#222" stroke-width="0.5"/></g>
<g transform="translate(137.1 543)"><path d="M0.2 12.2 C-0.39 3.66 2.34 0 6.5 0 C10.66 0 13.39 3.66 12.8 12.2 Z" fill="#fff" stroke="#111" stroke-width="0.6"/><path d="M1.3 9.76 C1.3 1.95 11.7 1.95 11.7 9.76" fill="none" stroke="#2a2a2a" stroke-width="2.3" stroke-dasharray="0.8 0.9"/><path d="M2.08 12.2 C2.21 4.64 10.79 4.64 10.92 12.2 Z" fill="#fff" stroke="#222" stroke-width="0.5"/></g>
<g transform="translate(153.3 543)"><path d="M0.2 12.2 C-0.39 3.66 2.34 0 6.5 0 C10.66 0 13.39 3.66 12.8 12.2 Z" fill="#fff" stroke="#111" stroke-width="0.6"/><path d="M1.3 9.76 C1.3 1.95 11.7 1.95 11.7 9.76" fill="none" stroke="#2a2a2a" stroke-width="2.3" stroke-dasharray="0.8 0.9"/><path d="M2.08 12.2 C2.21 4.64 10.79 4.64 10.92 12.2 Z" fill="#fff" stroke="#222" stroke-width="0.5"/></g>
<g transform="translate(167.3 543)"><path d="M0.2 12.2 C-0.39 3.66 2.34 0 6.5 0 C10.66 0 13.39 3.66 12.8 12.2 Z" fill="#fff" stroke="#111" stroke-width="0.6"/><path d="M1.3 9.76 C1.3 1.95 11.7 1.95 11.7 9.76" fill="none" stroke="#2a2a2a" stroke-width="2.3" stroke-dasharray="0.8 0.9"/><path d="M2.08 12.2 C2.21 4.64 10.79 4.64 10.92 12.2 Z" fill="#fff" stroke="#222" stroke-width="0.5"/></g>
<g transform="translate(188 314.5)"><rect x="0" y="0" width="12.7" height="12" rx="2.2" ry="2.4" fill="#b1acd4" stroke="#2c2a44" stroke-width="0.8"/><path d="M12.1 2.9 H3.4 Q1.9 2.9 1.9 6 Q1.9 9.1 3.4 9.1 H12.1 M12.1 6.2 H5.4" fill="none" stroke="#3a3758" stroke-width="1.1"/><path d="M11.9 4.3 H4.2 M11.9 7.9 H4.2" fill="none" stroke="#ecebf7" stroke-width="0.9"/></g>
<g transform="translate(205.8 314.5)"><rect x="0" y="0" width="12.7" height="12" rx="2.2" ry="2.4" fill="#b1acd4" stroke="#2c2a44" stroke-width="0.8"/><path d="M12.1 2.9 H3.4 Q1.9 2.9 1.9 6 Q1.9 9.1 3.4 9.1 H12.1 M12.1 6.2 H5.4" fill="none" stroke="#3a3758" stroke-width="1.1"/><path d="M11.9 4.3 H4.2 M11.9 7.9 H4.2" fill="none" stroke="#ecebf7" stroke-width="0.9"/></g>
<g transform="translate(223.9 314.5)"><rect x="0" y="0" width="12.7" height="12" rx="2.2" ry="2.4" fill="#b1acd4" stroke="#2c2a44" stroke-width="0.8"/><path d="M12.1 2.9 H3.4 Q1.9 2.9 1.9 6 Q1.9 9.1 3.4 9.1 H12.1 M12.1 6.2 H5.4" fill="none" stroke="#3a3758" stroke-width="1.1"/><path d="M11.9 4.3 H4.2 M11.9 7.9 H4.2" fill="none" stroke="#ecebf7" stroke-width="0.9"/></g>
<g transform="translate(241.8 314.5)"><rect x="0" y="0" width="12.7" height="12" rx="2.2" ry="2.4" fill="#b1acd4" stroke="#2c2a44" stroke-width="0.8"/><path d="M12.1 2.9 H3.4 Q1.9 2.9 1.9 6 Q1.9 9.1 3.4 9.1 H12.1 M12.1 6.2 H5.4" fill="none" stroke="#3a3758" stroke-width="1.1"/><path d="M11.9 4.3 H4.2 M11.9 7.9 H4.2" fill="none" stroke="#ecebf7" stroke-width="0.9"/></g>
<g transform="translate(188 333.7)"><rect x="0" y="0" width="12.7" height="10.6" rx="2.2" ry="2.4" fill="#b1acd4" stroke="#2c2a44" stroke-width="0.8"/><path d="M12.1 2.9 H3.4 Q1.9 2.9 1.9 5.3 Q1.9 7.7 3.4 7.7 H12.1 M12.1 5.5 H5.4" fill="none" stroke="#3a3758" stroke-width="1.1"/><path d="M11.9 4.3 H4.2 M11.9 6.5 H4.2" fill="none" stroke="#ecebf7" stroke-width="0.9"/></g>
<g transform="translate(205.8 333.7)"><rect x="0" y="0" width="12.7" height="10.6" rx="2.2" ry="2.4" fill="#b1acd4" stroke="#2c2a44" stroke-width="0.8"/><path d="M12.1 2.9 H3.4 Q1.9 2.9 1.9 5.3 Q1.9 7.7 3.4 7.7 H12.1 M12.1 5.5 H5.4" fill="none" stroke="#3a3758" stroke-width="1.1"/><path d="M11.9 4.3 H4.2 M11.9 6.5 H4.2" fill="none" stroke="#ecebf7" stroke-width="0.9"/></g>
<g transform="translate(223.9 333.7)"><rect x="0" y="0" width="12.7" height="10.6" rx="2.2" ry="2.4" fill="#b1acd4" stroke="#2c2a44" stroke-width="0.8"/><path d="M12.1 2.9 H3.4 Q1.9 2.9 1.9 5.3 Q1.9 7.7 3.4 7.7 H12.1 M12.1 5.5 H5.4" fill="none" stroke="#3a3758" stroke-width="1.1"/><path d="M11.9 4.3 H4.2 M11.9 6.5 H4.2" fill="none" stroke="#ecebf7" stroke-width="0.9"/></g>
<g transform="translate(241.8 333.7)"><rect x="0" y="0" width="12.7" height="10.6" rx="2.2" ry="2.4" fill="#b1acd4" stroke="#2c2a44" stroke-width="0.8"/><path d="M12.1 2.9 H3.4 Q1.9 2.9 1.9 5.3 Q1.9 7.7 3.4 7.7 H12.1 M12.1 5.5 H5.4" fill="none" stroke="#3a3758" stroke-width="1.1"/><path d="M11.9 4.3 H4.2 M11.9 6.5 H4.2" fill="none" stroke="#ecebf7" stroke-width="0.9"/></g>
<g transform="translate(188 349.4)"><rect x="0" y="0" width="12.7" height="10.6" rx="2.2" ry="2.4" fill="#b1acd4" stroke="#2c2a44" stroke-width="0.8"/><path d="M12.1 2.9 H3.4 Q1.9 2.9 1.9 5.3 Q1.9 7.7 3.4 7.7 H12.1 M12.1 5.5 H5.4" fill="none" stroke="#3a3758" stroke-width="1.1"/><path d="M11.9 4.3 H4.2 M11.9 6.5 H4.2" fill="none" stroke="#ecebf7" stroke-width="0.9"/></g>
<g transform="translate(205.8 349.4)"><rect x="0" y="0" width="12.7" height="10.6" rx="2.2" ry="2.4" fill="#b1acd4" stroke="#2c2a44" stroke-width="0.8"/><path d="M12.1 2.9 H3.4 Q1.9 2.9 1.9 5.3 Q1.9 7.7 3.4 7.7 H12.1 M12.1 5.5 H5.4" fill="none" stroke="#3a3758" stroke-width="1.1"/><path d="M11.9 4.3 H4.2 M11.9 6.5 H4.2" fill="none" stroke="#ecebf7" stroke-width="0.9"/></g>
<g transform="translate(223.9 349.4)"><rect x="0" y="0" width="12.7" height="10.6" rx="2.2" ry="2.4" fill="#b1acd4" stroke="#2c2a44" stroke-width="0.8"/><path d="M12.1 2.9 H3.4 Q1.9 2.9 1.9 5.3 Q1.9 7.7 3.4 7.7 H12.1 M12.1 5.5 H5.4" fill="none" stroke="#3a3758" stroke-width="1.1"/><path d="M11.9 4.3 H4.2 M11.9 6.5 H4.2" fill="none" stroke="#ecebf7" stroke-width="0.9"/></g>
<g transform="translate(241.8 349.4)"><rect x="0" y="0" width="12.7" height="10.6" rx="2.2" ry="2.4" fill="#b1acd4" stroke="#2c2a44" stroke-width="0.8"/><path d="M12.1 2.9 H3.4 Q1.9 2.9 1.9 5.3 Q1.9 7.7 3.4 7.7 H12.1 M12.1 5.5 H5.4" fill="none" stroke="#3a3758" stroke-width="1.1"/><path d="M11.9 4.3 H4.2 M11.9 6.5 H4.2" fill="none" stroke="#ecebf7" stroke-width="0.9"/></g>
<path d="M196.2 397 C194.6 366.8 214.2 366.8 212.6 397" fill="none" stroke="#1c1c1c" stroke-width="2.0"/><path d="M196.2 397 C194.6 366.8 214.2 366.8 212.6 397" fill="none" stroke="#9a9a9a" stroke-width="0.5"/><path d="M188.3 387.8 Q188.3 386.3 189.8 386.3 H218.2 Q219.7 386.3 219.7 387.8 V408.6 H188.3 Z" fill="#fff" stroke="#15100c" stroke-width="1.1"/><path d="M188.8 388 C189 392.5 190.5 395.2 193.5 395.2 H214.5 C217.5 395.2 219 392.5 219.2 388" fill="none" stroke="#15100c" stroke-width="0.9"/><path d="M196.2 387 L195.6 408.6 M212.6 387 L213.2 408.6" fill="none" stroke="#1c1c1c" stroke-width="1.8"/><path d="M196.1 388 L195.7 408 M212.7 388 L213.1 408" fill="none" stroke="#fff" stroke-width="0.5"/><path d="M193.6 398 h4.4 l-0.6 5.2 h-3.2 Z M210.8 398 h4.4 l-0.6 5.2 h-3.2 Z" fill="#111"/><path d="M202.6 386.6 C203.2 392 200.6 396 200.8 400 C201 404 202.6 406 202.8 408.6 M205.4 386.6 C204.8 392 207.4 396 207.2 400 C207 404 205.4 406 205.2 408.6" fill="none" stroke="#15100c" stroke-width="1.2"/><rect x="201.2" y="394.4" width="5.6" height="3.2" rx="1" fill="#111"/>
<path d="M231.4 385 C231.6 367.6 244.8 367.6 245 385" fill="none" stroke="#1c1c1c" stroke-width="1.9"/><path d="M231.4 385 C231.6 367.6 244.8 367.6 245 385" fill="none" stroke="#8a8a8a" stroke-width="0.45"/><path d="M222.8 383.3 Q222.8 381.3 224.8 381.3 H251.9 Q253.9 381.3 253.9 383.3 V406.6 Q253.9 408.6 251.9 408.6 H224.8 Q222.8 408.6 222.8 406.6 Z" fill="#fff" stroke="#15100c" stroke-width="1.1"/><rect x="230" y="384.8" width="2.8" height="4.6" fill="#fff" stroke="#20150e" stroke-width="0.8"/><rect x="243.6" y="384.8" width="2.8" height="4.6" fill="#fff" stroke="#20150e" stroke-width="0.8"/><rect x="235.8" y="386.1" width="4.2" height="1.8" rx="0.4" fill="#111"/>
<rect x="185.8" y="411.3" width="71.5" height="70.7" fill="#fff" stroke="#0c0806" stroke-width="1.3"/>
<path d="M221 411.3 V458.9 M185.8 434.9 H257.3 M185.8 458.9 H257.3" fill="none" stroke="#0c0806" stroke-width="1.5"/>
<rect x="198.7" y="420.9" width="9" height="2" fill="#999" stroke="#111" stroke-width="0.7"/>
<text x="203.2" y="427.5" font-size="3.3" font-weight="900" fill="#000" text-anchor="middle">围巾</text>
<rect x="235.5" y="420.9" width="9" height="2" fill="#999" stroke="#111" stroke-width="0.7"/>
<text x="240" y="427.5" font-size="3.3" font-weight="900" fill="#000" text-anchor="middle">羊绒毛衣</text>
<rect x="198.7" y="445" width="9" height="2" fill="#999" stroke="#111" stroke-width="0.7"/>
<text x="203.2" y="451.6" font-size="3.3" font-weight="900" fill="#000" text-anchor="middle">衣裤</text>
<rect x="235.5" y="445" width="9" height="2" fill="#999" stroke="#111" stroke-width="0.7"/>
<text x="240" y="451.6" font-size="3.3" font-weight="900" fill="#000" text-anchor="middle">贴身衣物</text>
<rect x="216.3" y="469" width="9" height="2" fill="#999" stroke="#111" stroke-width="0.7"/>
<text x="220.8" y="475.6" font-size="3.3" font-weight="900" fill="#000" text-anchor="middle">袜子</text>
<path d="M187.5 496 C195 492 205 492.3 221 492.3 C238 492.3 248 492 255.8 496 Z" fill="#fff" stroke="#15100c" stroke-width="0.7"/>
<rect x="187.5" y="495.8" width="68.3" height="61.8" fill="#e3bf9e" stroke="#20150e" stroke-width="0.8"/>
<rect x="189.7" y="498.3" width="64.1" height="57" fill="#e3bf9e" stroke="#20150e" stroke-width="0.8"/>
<rect x="208.3" y="523" width="26.4" height="5.7" fill="#fff" stroke="#20150e" stroke-width="0.8"/>
<circle cx="212.7" cy="525.9" r="1.3" fill="#fff" stroke="#111" stroke-width="0.6"/><circle cx="230.2" cy="525.9" r="1.3" fill="#fff" stroke="#111" stroke-width="0.6"/>
<circle cx="278" cy="317.3" r="1.8" fill="none" stroke="#111" stroke-width="0.9"/>
<path d="M277.6 319.5 L279 323 C282 326 284.5 329 285.5 333 C287 345 287.5 360 287.2 375 C287.8 385 288.5 395 288.6 403.5 L280 405.8 L265.2 401.5 C266 390 267 375 267.3 360 C267 348 268.5 336 270.5 330 C272 326 275 322 277.6 319.5 Z" fill="#fff" stroke="#15100c" stroke-width="1.0"/>
<path d="M279 323 C281 330 282.5 336 283 342 L280.3 345 L282.6 347.2 C283.5 360 283.8 372 283 385 M270.5 330 C272.5 345 271 365 269 382 L268.4 392.5 L274.5 394.3 M283.7 350 C285 362 285.2 375 285 388 L284.8 393 M273.5 327 L277 324 M268.6 386.5 L274.8 388.6 M282.3 387 L286 388 L285.8 394 L282 393 Z" fill="none" stroke="#15100c" stroke-width="0.8"/>
<path d="M268.8 388.5 l2.8 0.9 l-0.3 4 l-2.8 -0.9 Z M281.4 387 l2 0.5 l-0.2 4.4 l-2 -0.5 Z" fill="#222"/>
<path d="M301.3 314.5 V327.5" fill="none" stroke="#15100c" stroke-width="1.2"/>
<path d="M296.3 327.4 C298 326.2 304.5 326.2 306.2 327.4 C307.5 340 308.6 355 308.8 372 C308.6 390 308.2 410 308.8 437.6 L302.6 438.8 L301.6 421 L299.6 421 L297.8 438.3 L290.3 437 C292.5 420 294 400 293.6 385 C292.8 365 293.5 345 296.3 327.4 Z" fill="#b2d6dc" stroke="#14282a" stroke-width="1.1"/>
<path d="M296.8 329.5 H306.3 M299.3 330 C297.5 350 297 375 298.4 400 M303.2 330 C304.8 350 305.6 375 305 400 M301 331 V398 M295 405 C296 412 296.5 420 296.4 430 M305.5 420 C305 428 305.4 432 305.8 437" fill="none" stroke="#1e3639" stroke-width="0.8"/>
<path d="M296.3 409.5 L304.8 408.3 L305.6 413.6 L297 415 Z" fill="#b2d6dc" stroke="#111" stroke-width="1.0"/>
<path d="M297 406 L303.5 404.5 M299.5 402.5 L303 407.5" fill="none" stroke="#111" stroke-width="0.8"/>
<path d="M287.2 446.5 h3.2 v2 h-3.2 Z" fill="#bab4e2" stroke="#111" stroke-width="0.8"/>
<path d="M274.5 448.2 H304 Q307.6 448.2 307.9 452 C309.4 475 309.2 500 307.4 522 Q307 525.6 304 525.6 H274.6 Q271.4 525.6 271.4 522 V451.5 Q271.4 448.2 274.5 448.2 Z" fill="#bab4e2" stroke="#0a0a0a" stroke-width="1.3"/>
<rect x="288.2" y="448.2" width="4" height="78" fill="#111"/>
<rect x="289.9" y="470" width="0.8" height="34" fill="#cfcbe8"/>
<path d="M272.6 525.4 V520 Q272.6 518.6 274 518.6 H281.2 Q282.6 518.6 282.6 520 V525.4" fill="#bab4e2" stroke="#111" stroke-width="0.8"/>
<circle cx="277.6" cy="524.8" r="3.3" fill="#bab4e2" stroke="#111" stroke-width="0.9"/><circle cx="277.6" cy="524.8" r="1.4" fill="#111"/>
<path d="M294.3 525.4 V520 Q294.3 518.6 295.7 518.6 H302.9 Q304.3 518.6 304.3 520 V525.4" fill="#bab4e2" stroke="#111" stroke-width="0.8"/>
<circle cx="299.3" cy="524.8" r="3.3" fill="#bab4e2" stroke="#111" stroke-width="0.9"/><circle cx="299.3" cy="524.8" r="1.4" fill="#111"/>
<g transform="translate(261.7 542)"><path d="M0.2 12.8 C-0.4 3.84 2.38 0 6.6 0 C10.82 0 13.6 3.84 13 12.8 Z" fill="#fff" stroke="#111" stroke-width="0.6"/><path d="M1.32 10.24 C1.32 2.05 11.88 2.05 11.88 10.24" fill="none" stroke="#2a2a2a" stroke-width="2.3" stroke-dasharray="0.8 0.9"/><path d="M2.11 12.8 C2.24 4.86 10.96 4.86 11.09 12.8 Z" fill="#fff" stroke="#222" stroke-width="0.5"/></g>
<g transform="translate(275.4 542)"><path d="M0.2 12.8 C-0.4 3.84 2.38 0 6.6 0 C10.82 0 13.6 3.84 13 12.8 Z" fill="#fff" stroke="#111" stroke-width="0.6"/><path d="M1.32 10.24 C1.32 2.05 11.88 2.05 11.88 10.24" fill="none" stroke="#2a2a2a" stroke-width="2.3" stroke-dasharray="0.8 0.9"/><path d="M2.11 12.8 C2.24 4.86 10.96 4.86 11.09 12.8 Z" fill="#fff" stroke="#222" stroke-width="0.5"/></g>
<g transform="translate(292.6 542)"><path d="M0.2 12.8 C-0.4 3.84 2.38 0 6.6 0 C10.82 0 13.6 3.84 13 12.8 Z" fill="#fff" stroke="#111" stroke-width="0.6"/><path d="M1.32 10.24 C1.32 2.05 11.88 2.05 11.88 10.24" fill="none" stroke="#2a2a2a" stroke-width="2.3" stroke-dasharray="0.8 0.9"/><path d="M2.11 12.8 C2.24 4.86 10.96 4.86 11.09 12.8 Z" fill="#fff" stroke="#222" stroke-width="0.5"/></g>
<g transform="translate(306.4 542)"><path d="M0.2 12.8 C-0.4 3.84 2.38 0 6.6 0 C10.82 0 13.6 3.84 13 12.8 Z" fill="#fff" stroke="#111" stroke-width="0.6"/><path d="M1.32 10.24 C1.32 2.05 11.88 2.05 11.88 10.24" fill="none" stroke="#2a2a2a" stroke-width="2.3" stroke-dasharray="0.8 0.9"/><path d="M2.11 12.8 C2.24 4.86 10.96 4.86 11.09 12.8 Z" fill="#fff" stroke="#222" stroke-width="0.5"/></g>
<rect x="320.1" y="271.8" width="24.4" height="13.9" fill="#fff" stroke="#3a3a3a" stroke-width="0.8"/>
<rect x="319.4" y="270.6" width="25.8" height="1.8" fill="#444" stroke="#222" stroke-width="0.4"/>
<g transform="translate(321.6 275)"><path d="M0.6 6.2 C3 4.6 7 4.2 9.5 2.8 C11.5 1.2 12.5 0.2 14.5 0.3 L21 1 L21.4 9 L11 9.2 C7 9.2 3 8.8 0.5 7.8 C0 7.2 0.1 6.6 0.6 6.2 Z" fill="#fff" stroke="#15100c" stroke-width="1.0"/><path d="M9.5 2.8 C11.5 4.8 14.5 5 16.5 3.2 L14.5 0.3 M16.5 3.2 L21.2 3.4 M0.5 7.4 C5 7.2 13 7.6 21.4 7.2 M3 5.4 C6 5.8 9 5 11.5 4.3" fill="none" stroke="#15100c" stroke-width="0.9"/></g>
<rect x="348.2" y="271.8" width="24.4" height="13.9" fill="#fff" stroke="#3a3a3a" stroke-width="0.8"/>
<rect x="347.5" y="270.6" width="25.8" height="1.8" fill="#444" stroke="#222" stroke-width="0.4"/>
<g transform="translate(349.7 275)"><path d="M0.6 6.2 C3 4.6 7 4.2 9.5 2.8 C11.5 1.2 12.5 0.2 14.5 0.3 L21 1 L21.4 9 L11 9.2 C7 9.2 3 8.8 0.5 7.8 C0 7.2 0.1 6.6 0.6 6.2 Z" fill="#fff" stroke="#15100c" stroke-width="1.0"/><path d="M9.5 2.8 C11.5 4.8 14.5 5 16.5 3.2 L14.5 0.3 M16.5 3.2 L21.2 3.4 M0.5 7.4 C5 7.2 13 7.6 21.4 7.2 M3 5.4 C6 5.8 9 5 11.5 4.3" fill="none" stroke="#15100c" stroke-width="0.9"/></g>
<rect x="376" y="271.8" width="24.4" height="13.9" fill="#fff" stroke="#3a3a3a" stroke-width="0.8"/>
<rect x="375.3" y="270.6" width="25.8" height="1.8" fill="#444" stroke="#222" stroke-width="0.4"/>
<g transform="translate(377.5 275)"><path d="M0.6 6.2 C3 4.6 7 4.2 9.5 2.8 C11.5 1.2 12.5 0.2 14.5 0.3 L21 1 L21.4 9 L11 9.2 C7 9.2 3 8.8 0.5 7.8 C0 7.2 0.1 6.6 0.6 6.2 Z" fill="#fff" stroke="#15100c" stroke-width="1.0"/><path d="M9.5 2.8 C11.5 4.8 14.5 5 16.5 3.2 L14.5 0.3 M16.5 3.2 L21.2 3.4 M0.5 7.4 C5 7.2 13 7.6 21.4 7.2 M3 5.4 C6 5.8 9 5 11.5 4.3" fill="none" stroke="#15100c" stroke-width="0.9"/></g>
<rect x="320.1" y="295.6" width="24.4" height="13.9" fill="#fff" stroke="#3a3a3a" stroke-width="0.8"/>
<rect x="319.4" y="294.4" width="25.8" height="1.8" fill="#444" stroke="#222" stroke-width="0.4"/>
<g transform="translate(322.4 298.3)"><path d="M0.3 11 L0.5 4.2 C1.2 2.5 3 2.2 3.6 1 C4.2 0 6 0 6.6 1 C7.2 2.2 8.6 2.5 9.4 4.2 L9.6 11 Z" fill="#111" stroke="#111" stroke-width="0.5"/><path d="M1.6 6.6 C3 5.6 7 5.6 8.4 6.6 L8.4 9.2 H1.6 Z" fill="#fff"/><path d="M3.2 4.3 L5 3 L6.8 4.3 Z" fill="#fff"/><path d="M1.2 7.6 H8.8" stroke="#111" stroke-width="0.5" fill="none"/><path d="M10.5 11 L10.7 4.2 C11.4 2.5 13.2 2.2 13.8 1 C14.4 0 16.2 0 16.8 1 C17.4 2.2 18.8 2.5 19.6 4.2 L19.8 11 Z" fill="#111" stroke="#111" stroke-width="0.5"/><path d="M11.8 6.6 C13.2 5.6 17.2 5.6 18.6 6.6 L18.6 9.2 H11.8 Z" fill="#fff"/><path d="M13.4 4.3 L15.2 3 L17 4.3 Z" fill="#fff"/><path d="M11.4 7.6 H19" stroke="#111" stroke-width="0.5" fill="none"/></g>
<rect x="348.2" y="295.6" width="24.4" height="13.9" fill="#fff" stroke="#3a3a3a" stroke-width="0.8"/>
<rect x="347.5" y="294.4" width="25.8" height="1.8" fill="#444" stroke="#222" stroke-width="0.4"/>
<g transform="translate(350.5 298.3)"><path d="M0.3 11 L0.5 4.2 C1.2 2.5 3 2.2 3.6 1 C4.2 0 6 0 6.6 1 C7.2 2.2 8.6 2.5 9.4 4.2 L9.6 11 Z" fill="#111" stroke="#111" stroke-width="0.5"/><path d="M1.6 6.6 C3 5.6 7 5.6 8.4 6.6 L8.4 9.2 H1.6 Z" fill="#fff"/><path d="M3.2 4.3 L5 3 L6.8 4.3 Z" fill="#fff"/><path d="M1.2 7.6 H8.8" stroke="#111" stroke-width="0.5" fill="none"/><path d="M10.5 11 L10.7 4.2 C11.4 2.5 13.2 2.2 13.8 1 C14.4 0 16.2 0 16.8 1 C17.4 2.2 18.8 2.5 19.6 4.2 L19.8 11 Z" fill="#111" stroke="#111" stroke-width="0.5"/><path d="M11.8 6.6 C13.2 5.6 17.2 5.6 18.6 6.6 L18.6 9.2 H11.8 Z" fill="#fff"/><path d="M13.4 4.3 L15.2 3 L17 4.3 Z" fill="#fff"/><path d="M11.4 7.6 H19" stroke="#111" stroke-width="0.5" fill="none"/></g>
<rect x="376" y="295.6" width="24.4" height="13.9" fill="#fff" stroke="#3a3a3a" stroke-width="0.8"/>
<rect x="375.3" y="294.4" width="25.8" height="1.8" fill="#444" stroke="#222" stroke-width="0.4"/>
<g transform="translate(378.3 298.3)"><path d="M0.3 11 L0.5 4.2 C1.2 2.5 3 2.2 3.6 1 C4.2 0 6 0 6.6 1 C7.2 2.2 8.6 2.5 9.4 4.2 L9.6 11 Z" fill="#111" stroke="#111" stroke-width="0.5"/><path d="M1.6 6.6 C3 5.6 7 5.6 8.4 6.6 L8.4 9.2 H1.6 Z" fill="#fff"/><path d="M3.2 4.3 L5 3 L6.8 4.3 Z" fill="#fff"/><path d="M1.2 7.6 H8.8" stroke="#111" stroke-width="0.5" fill="none"/><path d="M10.5 11 L10.7 4.2 C11.4 2.5 13.2 2.2 13.8 1 C14.4 0 16.2 0 16.8 1 C17.4 2.2 18.8 2.5 19.6 4.2 L19.8 11 Z" fill="#111" stroke="#111" stroke-width="0.5"/><path d="M11.8 6.6 C13.2 5.6 17.2 5.6 18.6 6.6 L18.6 9.2 H11.8 Z" fill="#fff"/><path d="M13.4 4.3 L15.2 3 L17 4.3 Z" fill="#fff"/><path d="M11.4 7.6 H19" stroke="#111" stroke-width="0.5" fill="none"/></g>
<rect x="320.1" y="319.6" width="24.4" height="13.9" fill="#fff" stroke="#3a3a3a" stroke-width="0.8"/>
<rect x="319.4" y="318.4" width="25.8" height="1.8" fill="#444" stroke="#222" stroke-width="0.4"/>
<g transform="translate(322.4 321) scale(1 1.12)"><g transform="translate(0 0)"><path d="M0.3 11 L0.5 4.2 C1.2 2.5 3 2.2 3.6 1 C4.2 0 6 0 6.6 1 C7.2 2.2 8.6 2.5 9.4 4.2 L9.6 11 Z" fill="#111" stroke="#111" stroke-width="0.5"/><path d="M1.6 6.6 C3 5.6 7 5.6 8.4 6.6 L8.4 9.2 H1.6 Z" fill="#fff"/><path d="M3.2 4.3 L5 3 L6.8 4.3 Z" fill="#fff"/><path d="M1.2 7.6 H8.8" stroke="#111" stroke-width="0.5" fill="none"/><path d="M10.5 11 L10.7 4.2 C11.4 2.5 13.2 2.2 13.8 1 C14.4 0 16.2 0 16.8 1 C17.4 2.2 18.8 2.5 19.6 4.2 L19.8 11 Z" fill="#111" stroke="#111" stroke-width="0.5"/><path d="M11.8 6.6 C13.2 5.6 17.2 5.6 18.6 6.6 L18.6 9.2 H11.8 Z" fill="#fff"/><path d="M13.4 4.3 L15.2 3 L17 4.3 Z" fill="#fff"/><path d="M11.4 7.6 H19" stroke="#111" stroke-width="0.5" fill="none"/></g></g>
<rect x="348.2" y="319.6" width="24.4" height="13.9" fill="#fff" stroke="#3a3a3a" stroke-width="0.8"/>
<rect x="347.5" y="318.4" width="25.8" height="1.8" fill="#444" stroke="#222" stroke-width="0.4"/>
<g transform="translate(350.5 321) scale(1 1.12)"><g transform="translate(0 0)"><path d="M0.3 11 L0.5 4.2 C1.2 2.5 3 2.2 3.6 1 C4.2 0 6 0 6.6 1 C7.2 2.2 8.6 2.5 9.4 4.2 L9.6 11 Z" fill="#111" stroke="#111" stroke-width="0.5"/><path d="M1.6 6.6 C3 5.6 7 5.6 8.4 6.6 L8.4 9.2 H1.6 Z" fill="#fff"/><path d="M3.2 4.3 L5 3 L6.8 4.3 Z" fill="#fff"/><path d="M1.2 7.6 H8.8" stroke="#111" stroke-width="0.5" fill="none"/><path d="M10.5 11 L10.7 4.2 C11.4 2.5 13.2 2.2 13.8 1 C14.4 0 16.2 0 16.8 1 C17.4 2.2 18.8 2.5 19.6 4.2 L19.8 11 Z" fill="#111" stroke="#111" stroke-width="0.5"/><path d="M11.8 6.6 C13.2 5.6 17.2 5.6 18.6 6.6 L18.6 9.2 H11.8 Z" fill="#fff"/><path d="M13.4 4.3 L15.2 3 L17 4.3 Z" fill="#fff"/><path d="M11.4 7.6 H19" stroke="#111" stroke-width="0.5" fill="none"/></g></g>
<rect x="376" y="319.6" width="24.4" height="13.9" fill="#fff" stroke="#3a3a3a" stroke-width="0.8"/>
<rect x="375.3" y="318.4" width="25.8" height="1.8" fill="#444" stroke="#222" stroke-width="0.4"/>
<g transform="translate(378.3 321) scale(1 1.12)"><g transform="translate(0 0)"><path d="M0.3 11 L0.5 4.2 C1.2 2.5 3 2.2 3.6 1 C4.2 0 6 0 6.6 1 C7.2 2.2 8.6 2.5 9.4 4.2 L9.6 11 Z" fill="#111" stroke="#111" stroke-width="0.5"/><path d="M1.6 6.6 C3 5.6 7 5.6 8.4 6.6 L8.4 9.2 H1.6 Z" fill="#fff"/><path d="M3.2 4.3 L5 3 L6.8 4.3 Z" fill="#fff"/><path d="M1.2 7.6 H8.8" stroke="#111" stroke-width="0.5" fill="none"/><path d="M10.5 11 L10.7 4.2 C11.4 2.5 13.2 2.2 13.8 1 C14.4 0 16.2 0 16.8 1 C17.4 2.2 18.8 2.5 19.6 4.2 L19.8 11 Z" fill="#111" stroke="#111" stroke-width="0.5"/><path d="M11.8 6.6 C13.2 5.6 17.2 5.6 18.6 6.6 L18.6 9.2 H11.8 Z" fill="#fff"/><path d="M13.4 4.3 L15.2 3 L17 4.3 Z" fill="#fff"/><path d="M11.4 7.6 H19" stroke="#111" stroke-width="0.5" fill="none"/></g></g>
<rect x="320.1" y="343.8" width="24.4" height="13.9" fill="#fff" stroke="#3a3a3a" stroke-width="0.8"/>
<rect x="319.4" y="342.6" width="25.8" height="1.8" fill="#444" stroke="#222" stroke-width="0.4"/>
<g transform="translate(321.6 347)"><path d="M0.6 6.2 C3 4.6 7 4.2 9.5 2.8 C11.5 1.2 12.5 0.2 14.5 0.3 L21 1 L21.4 9 L11 9.2 C7 9.2 3 8.8 0.5 7.8 C0 7.2 0.1 6.6 0.6 6.2 Z" fill="#fff" stroke="#15100c" stroke-width="1.0"/><path d="M9.5 2.8 C11.5 4.8 14.5 5 16.5 3.2 L14.5 0.3 M16.5 3.2 L21.2 3.4 M0.5 7.4 C5 7.2 13 7.6 21.4 7.2 M3 5.4 C6 5.8 9 5 11.5 4.3" fill="none" stroke="#15100c" stroke-width="0.9"/></g>
<rect x="348.2" y="343.8" width="24.4" height="13.9" fill="#fff" stroke="#3a3a3a" stroke-width="0.8"/>
<rect x="347.5" y="342.6" width="25.8" height="1.8" fill="#444" stroke="#222" stroke-width="0.4"/>
<g transform="translate(349.7 347)"><path d="M0.6 6.2 C3 4.6 7 4.2 9.5 2.8 C11.5 1.2 12.5 0.2 14.5 0.3 L21 1 L21.4 9 L11 9.2 C7 9.2 3 8.8 0.5 7.8 C0 7.2 0.1 6.6 0.6 6.2 Z" fill="#fff" stroke="#15100c" stroke-width="1.0"/><path d="M9.5 2.8 C11.5 4.8 14.5 5 16.5 3.2 L14.5 0.3 M16.5 3.2 L21.2 3.4 M0.5 7.4 C5 7.2 13 7.6 21.4 7.2 M3 5.4 C6 5.8 9 5 11.5 4.3" fill="none" stroke="#15100c" stroke-width="0.9"/></g>
<rect x="376" y="343.8" width="24.4" height="13.9" fill="#fff" stroke="#3a3a3a" stroke-width="0.8"/>
<rect x="375.3" y="342.6" width="25.8" height="1.8" fill="#444" stroke="#222" stroke-width="0.4"/>
<g transform="translate(377.5 347)"><path d="M0.6 6.2 C3 4.6 7 4.2 9.5 2.8 C11.5 1.2 12.5 0.2 14.5 0.3 L21 1 L21.4 9 L11 9.2 C7 9.2 3 8.8 0.5 7.8 C0 7.2 0.1 6.6 0.6 6.2 Z" fill="#fff" stroke="#15100c" stroke-width="1.0"/><path d="M9.5 2.8 C11.5 4.8 14.5 5 16.5 3.2 L14.5 0.3 M16.5 3.2 L21.2 3.4 M0.5 7.4 C5 7.2 13 7.6 21.4 7.2 M3 5.4 C6 5.8 9 5 11.5 4.3" fill="none" stroke="#15100c" stroke-width="0.9"/></g>
<rect x="320.1" y="367.8" width="24.4" height="13.9" fill="#fff" stroke="#3a3a3a" stroke-width="0.8"/>
<rect x="319.4" y="366.6" width="25.8" height="1.8" fill="#444" stroke="#222" stroke-width="0.4"/>
<g transform="translate(322.4 370.5)"><path d="M0.3 11 L0.5 4.2 C1.2 2.5 3 2.2 3.6 1 C4.2 0 6 0 6.6 1 C7.2 2.2 8.6 2.5 9.4 4.2 L9.6 11 Z" fill="#111" stroke="#111" stroke-width="0.5"/><path d="M1.6 6.6 C3 5.6 7 5.6 8.4 6.6 L8.4 9.2 H1.6 Z" fill="#fff"/><path d="M3.2 4.3 L5 3 L6.8 4.3 Z" fill="#fff"/><path d="M1.2 7.6 H8.8" stroke="#111" stroke-width="0.5" fill="none"/><path d="M10.5 11 L10.7 4.2 C11.4 2.5 13.2 2.2 13.8 1 C14.4 0 16.2 0 16.8 1 C17.4 2.2 18.8 2.5 19.6 4.2 L19.8 11 Z" fill="#111" stroke="#111" stroke-width="0.5"/><path d="M11.8 6.6 C13.2 5.6 17.2 5.6 18.6 6.6 L18.6 9.2 H11.8 Z" fill="#fff"/><path d="M13.4 4.3 L15.2 3 L17 4.3 Z" fill="#fff"/><path d="M11.4 7.6 H19" stroke="#111" stroke-width="0.5" fill="none"/></g>
<rect x="348.2" y="367.8" width="24.4" height="13.9" fill="#fff" stroke="#3a3a3a" stroke-width="0.8"/>
<rect x="347.5" y="366.6" width="25.8" height="1.8" fill="#444" stroke="#222" stroke-width="0.4"/>
<g transform="translate(350.5 370.5)"><path d="M0.3 11 L0.5 4.2 C1.2 2.5 3 2.2 3.6 1 C4.2 0 6 0 6.6 1 C7.2 2.2 8.6 2.5 9.4 4.2 L9.6 11 Z" fill="#111" stroke="#111" stroke-width="0.5"/><path d="M1.6 6.6 C3 5.6 7 5.6 8.4 6.6 L8.4 9.2 H1.6 Z" fill="#fff"/><path d="M3.2 4.3 L5 3 L6.8 4.3 Z" fill="#fff"/><path d="M1.2 7.6 H8.8" stroke="#111" stroke-width="0.5" fill="none"/><path d="M10.5 11 L10.7 4.2 C11.4 2.5 13.2 2.2 13.8 1 C14.4 0 16.2 0 16.8 1 C17.4 2.2 18.8 2.5 19.6 4.2 L19.8 11 Z" fill="#111" stroke="#111" stroke-width="0.5"/><path d="M11.8 6.6 C13.2 5.6 17.2 5.6 18.6 6.6 L18.6 9.2 H11.8 Z" fill="#fff"/><path d="M13.4 4.3 L15.2 3 L17 4.3 Z" fill="#fff"/><path d="M11.4 7.6 H19" stroke="#111" stroke-width="0.5" fill="none"/></g>
<rect x="376" y="367.8" width="24.4" height="13.9" fill="#fff" stroke="#3a3a3a" stroke-width="0.8"/>
<rect x="375.3" y="366.6" width="25.8" height="1.8" fill="#444" stroke="#222" stroke-width="0.4"/>
<g transform="translate(378.3 370.5)"><path d="M0.3 11 L0.5 4.2 C1.2 2.5 3 2.2 3.6 1 C4.2 0 6 0 6.6 1 C7.2 2.2 8.6 2.5 9.4 4.2 L9.6 11 Z" fill="#111" stroke="#111" stroke-width="0.5"/><path d="M1.6 6.6 C3 5.6 7 5.6 8.4 6.6 L8.4 9.2 H1.6 Z" fill="#fff"/><path d="M3.2 4.3 L5 3 L6.8 4.3 Z" fill="#fff"/><path d="M1.2 7.6 H8.8" stroke="#111" stroke-width="0.5" fill="none"/><path d="M10.5 11 L10.7 4.2 C11.4 2.5 13.2 2.2 13.8 1 C14.4 0 16.2 0 16.8 1 C17.4 2.2 18.8 2.5 19.6 4.2 L19.8 11 Z" fill="#111" stroke="#111" stroke-width="0.5"/><path d="M11.8 6.6 C13.2 5.6 17.2 5.6 18.6 6.6 L18.6 9.2 H11.8 Z" fill="#fff"/><path d="M13.4 4.3 L15.2 3 L17 4.3 Z" fill="#fff"/><path d="M11.4 7.6 H19" stroke="#111" stroke-width="0.5" fill="none"/></g>
<g transform="translate(322.7 394.2)"><path d="M5.9 0 C9.44 0 10.15 3.66 10.62 6.71 C12.04 9.15 12.04 11.22 11.33 12.2 L0.47 12.2 C-0.24 11.22 -0.24 9.15 1.18 6.71 C1.65 3.66 2.36 0 5.9 0 Z" fill="#fff" stroke="#15100c" stroke-width="0.9"/><path d="M3.54 2.2 C4.25 6.1 3.54 8.54 1.42 11.59 M8.26 2.2 C7.55 6.1 8.26 8.54 10.38 11.59 M4.48 5.49 H7.32 M5.9 5.49 V11.96" fill="none" stroke="#15100c" stroke-width="0.8"/></g>
<g transform="translate(335.8 394.2)"><path d="M5.9 0 C9.44 0 10.15 3.66 10.62 6.71 C12.04 9.15 12.04 11.22 11.33 12.2 L0.47 12.2 C-0.24 11.22 -0.24 9.15 1.18 6.71 C1.65 3.66 2.36 0 5.9 0 Z" fill="#fff" stroke="#15100c" stroke-width="0.9"/><path d="M3.54 2.2 C4.25 6.1 3.54 8.54 1.42 11.59 M8.26 2.2 C7.55 6.1 8.26 8.54 10.38 11.59 M4.48 5.49 H7.32 M5.9 5.49 V11.96" fill="none" stroke="#15100c" stroke-width="0.8"/></g>
<g transform="translate(350.2 392)"><path d="M5.2 0 C8.32 0 8.94 4.32 9.36 7.92 C10.61 10.8 10.61 13.25 9.98 14.4 L0.42 14.4 C-0.21 13.25 -0.21 10.8 1.04 7.92 C1.46 4.32 2.08 0 5.2 0 Z" fill="#fff" stroke="#15100c" stroke-width="0.9"/><path d="M3.12 2.59 C3.74 7.2 3.12 10.08 1.25 13.68 M7.28 2.59 C6.66 7.2 7.28 10.08 9.15 13.68 M3.95 6.48 H6.45 M5.2 6.48 V14.11" fill="none" stroke="#15100c" stroke-width="0.8"/></g>
<g transform="translate(362.2 392)"><path d="M5 0 C8 0 8.6 4.32 9 7.92 C10.2 10.8 10.2 13.25 9.6 14.4 L0.4 14.4 C-0.2 13.25 -0.2 10.8 1 7.92 C1.4 4.32 2 0 5 0 Z" fill="#fff" stroke="#15100c" stroke-width="0.9"/><path d="M3 2.59 C3.6 7.2 3 10.08 1.2 13.68 M7 2.59 C6.4 7.2 7 10.08 8.8 13.68 M3.8 6.48 H6.2 M5 6.48 V14.11" fill="none" stroke="#15100c" stroke-width="0.8"/></g>
<g transform="translate(374.2 394.2)"><path d="M5.8 0 C9.28 0 9.98 3.66 10.44 6.71 C11.83 9.15 11.83 11.22 11.14 12.2 L0.46 12.2 C-0.23 11.22 -0.23 9.15 1.16 6.71 C1.62 3.66 2.32 0 5.8 0 Z" fill="#fff" stroke="#15100c" stroke-width="0.9"/><path d="M3.48 2.2 C4.18 6.1 3.48 8.54 1.39 11.59 M8.12 2.2 C7.42 6.1 8.12 8.54 10.21 11.59 M4.41 5.49 H7.19 M5.8 5.49 V11.96" fill="none" stroke="#15100c" stroke-width="0.8"/></g>
<g transform="translate(387.4 394.2)"><path d="M5.9 0 C9.44 0 10.15 3.66 10.62 6.71 C12.04 9.15 12.04 11.22 11.33 12.2 L0.47 12.2 C-0.24 11.22 -0.24 9.15 1.18 6.71 C1.65 3.66 2.36 0 5.9 0 Z" fill="#fff" stroke="#15100c" stroke-width="0.9"/><path d="M3.54 2.2 C4.25 6.1 3.54 8.54 1.42 11.59 M8.26 2.2 C7.55 6.1 8.26 8.54 10.38 11.59 M4.48 5.49 H7.32 M5.9 5.49 V11.96" fill="none" stroke="#15100c" stroke-width="0.8"/></g>
<g transform="translate(322.7 442.6)"><path d="M5.9 0 C9.44 0 10.15 3.66 10.62 6.71 C12.04 9.15 12.04 11.22 11.33 12.2 L0.47 12.2 C-0.24 11.22 -0.24 9.15 1.18 6.71 C1.65 3.66 2.36 0 5.9 0 Z" fill="#fff" stroke="#15100c" stroke-width="0.9"/><path d="M3.54 2.2 C4.25 6.1 3.54 8.54 1.42 11.59 M8.26 2.2 C7.55 6.1 8.26 8.54 10.38 11.59 M4.48 5.49 H7.32 M5.9 5.49 V11.96" fill="none" stroke="#15100c" stroke-width="0.8"/></g>
<g transform="translate(335.8 442.6)"><path d="M5.9 0 C9.44 0 10.15 3.66 10.62 6.71 C12.04 9.15 12.04 11.22 11.33 12.2 L0.47 12.2 C-0.24 11.22 -0.24 9.15 1.18 6.71 C1.65 3.66 2.36 0 5.9 0 Z" fill="#fff" stroke="#15100c" stroke-width="0.9"/><path d="M3.54 2.2 C4.25 6.1 3.54 8.54 1.42 11.59 M8.26 2.2 C7.55 6.1 8.26 8.54 10.38 11.59 M4.48 5.49 H7.32 M5.9 5.49 V11.96" fill="none" stroke="#15100c" stroke-width="0.8"/></g>
<g transform="translate(350.2 440.4)"><path d="M5.2 0 C8.32 0 8.94 4.32 9.36 7.92 C10.61 10.8 10.61 13.25 9.98 14.4 L0.42 14.4 C-0.21 13.25 -0.21 10.8 1.04 7.92 C1.46 4.32 2.08 0 5.2 0 Z" fill="#fff" stroke="#15100c" stroke-width="0.9"/><path d="M3.12 2.59 C3.74 7.2 3.12 10.08 1.25 13.68 M7.28 2.59 C6.66 7.2 7.28 10.08 9.15 13.68 M3.95 6.48 H6.45 M5.2 6.48 V14.11" fill="none" stroke="#15100c" stroke-width="0.8"/></g>
<g transform="translate(362.2 440.4)"><path d="M5 0 C8 0 8.6 4.32 9 7.92 C10.2 10.8 10.2 13.25 9.6 14.4 L0.4 14.4 C-0.2 13.25 -0.2 10.8 1 7.92 C1.4 4.32 2 0 5 0 Z" fill="#fff" stroke="#15100c" stroke-width="0.9"/><path d="M3 2.59 C3.6 7.2 3 10.08 1.2 13.68 M7 2.59 C6.4 7.2 7 10.08 8.8 13.68 M3.8 6.48 H6.2 M5 6.48 V14.11" fill="none" stroke="#15100c" stroke-width="0.8"/></g>
<g transform="translate(374.2 442.6)"><path d="M5.8 0 C9.28 0 9.98 3.66 10.44 6.71 C11.83 9.15 11.83 11.22 11.14 12.2 L0.46 12.2 C-0.23 11.22 -0.23 9.15 1.16 6.71 C1.62 3.66 2.32 0 5.8 0 Z" fill="#fff" stroke="#15100c" stroke-width="0.9"/><path d="M3.48 2.2 C4.18 6.1 3.48 8.54 1.39 11.59 M8.12 2.2 C7.42 6.1 8.12 8.54 10.21 11.59 M4.41 5.49 H7.19 M5.8 5.49 V11.96" fill="none" stroke="#15100c" stroke-width="0.8"/></g>
<g transform="translate(387.4 442.6)"><path d="M5.9 0 C9.44 0 10.15 3.66 10.62 6.71 C12.04 9.15 12.04 11.22 11.33 12.2 L0.47 12.2 C-0.24 11.22 -0.24 9.15 1.18 6.71 C1.65 3.66 2.36 0 5.9 0 Z" fill="#fff" stroke="#15100c" stroke-width="0.9"/><path d="M3.54 2.2 C4.25 6.1 3.54 8.54 1.42 11.59 M8.26 2.2 C7.55 6.1 8.26 8.54 10.38 11.59 M4.48 5.49 H7.32 M5.9 5.49 V11.96" fill="none" stroke="#15100c" stroke-width="0.8"/></g>
<g transform="translate(322.7 515.6)"><path d="M5.9 0 C9.44 0 10.15 3.66 10.62 6.71 C12.04 9.15 12.04 11.22 11.33 12.2 L0.47 12.2 C-0.24 11.22 -0.24 9.15 1.18 6.71 C1.65 3.66 2.36 0 5.9 0 Z" fill="#fff" stroke="#15100c" stroke-width="0.9"/><path d="M3.54 2.2 C4.25 6.1 3.54 8.54 1.42 11.59 M8.26 2.2 C7.55 6.1 8.26 8.54 10.38 11.59 M4.48 5.49 H7.32 M5.9 5.49 V11.96" fill="none" stroke="#15100c" stroke-width="0.8"/></g>
<g transform="translate(335.8 515.6)"><path d="M5.9 0 C9.44 0 10.15 3.66 10.62 6.71 C12.04 9.15 12.04 11.22 11.33 12.2 L0.47 12.2 C-0.24 11.22 -0.24 9.15 1.18 6.71 C1.65 3.66 2.36 0 5.9 0 Z" fill="#fff" stroke="#15100c" stroke-width="0.9"/><path d="M3.54 2.2 C4.25 6.1 3.54 8.54 1.42 11.59 M8.26 2.2 C7.55 6.1 8.26 8.54 10.38 11.59 M4.48 5.49 H7.32 M5.9 5.49 V11.96" fill="none" stroke="#15100c" stroke-width="0.8"/></g>
<g transform="translate(350.2 513.4)"><path d="M5.2 0 C8.32 0 8.94 4.32 9.36 7.92 C10.61 10.8 10.61 13.25 9.98 14.4 L0.42 14.4 C-0.21 13.25 -0.21 10.8 1.04 7.92 C1.46 4.32 2.08 0 5.2 0 Z" fill="#fff" stroke="#15100c" stroke-width="0.9"/><path d="M3.12 2.59 C3.74 7.2 3.12 10.08 1.25 13.68 M7.28 2.59 C6.66 7.2 7.28 10.08 9.15 13.68 M3.95 6.48 H6.45 M5.2 6.48 V14.11" fill="none" stroke="#15100c" stroke-width="0.8"/></g>
<g transform="translate(362.2 513.4)"><path d="M5 0 C8 0 8.6 4.32 9 7.92 C10.2 10.8 10.2 13.25 9.6 14.4 L0.4 14.4 C-0.2 13.25 -0.2 10.8 1 7.92 C1.4 4.32 2 0 5 0 Z" fill="#fff" stroke="#15100c" stroke-width="0.9"/><path d="M3 2.59 C3.6 7.2 3 10.08 1.2 13.68 M7 2.59 C6.4 7.2 7 10.08 8.8 13.68 M3.8 6.48 H6.2 M5 6.48 V14.11" fill="none" stroke="#15100c" stroke-width="0.8"/></g>
<g transform="translate(374.2 515.6)"><path d="M5.8 0 C9.28 0 9.98 3.66 10.44 6.71 C11.83 9.15 11.83 11.22 11.14 12.2 L0.46 12.2 C-0.23 11.22 -0.23 9.15 1.16 6.71 C1.62 3.66 2.32 0 5.8 0 Z" fill="#fff" stroke="#15100c" stroke-width="0.9"/><path d="M3.48 2.2 C4.18 6.1 3.48 8.54 1.39 11.59 M8.12 2.2 C7.42 6.1 8.12 8.54 10.21 11.59 M4.41 5.49 H7.19 M5.8 5.49 V11.96" fill="none" stroke="#15100c" stroke-width="0.8"/></g>
<g transform="translate(387.4 515.6)"><path d="M5.9 0 C9.44 0 10.15 3.66 10.62 6.71 C12.04 9.15 12.04 11.22 11.33 12.2 L0.47 12.2 C-0.24 11.22 -0.24 9.15 1.18 6.71 C1.65 3.66 2.36 0 5.9 0 Z" fill="#fff" stroke="#15100c" stroke-width="0.9"/><path d="M3.54 2.2 C4.25 6.1 3.54 8.54 1.42 11.59 M8.26 2.2 C7.55 6.1 8.26 8.54 10.38 11.59 M4.48 5.49 H7.32 M5.9 5.49 V11.96" fill="none" stroke="#15100c" stroke-width="0.8"/></g>
<g transform="translate(322.7 542.6)"><path d="M5.9 0 C9.44 0 10.15 3.66 10.62 6.71 C12.04 9.15 12.04 11.22 11.33 12.2 L0.47 12.2 C-0.24 11.22 -0.24 9.15 1.18 6.71 C1.65 3.66 2.36 0 5.9 0 Z" fill="#fff" stroke="#15100c" stroke-width="0.9"/><path d="M3.54 2.2 C4.25 6.1 3.54 8.54 1.42 11.59 M8.26 2.2 C7.55 6.1 8.26 8.54 10.38 11.59 M4.48 5.49 H7.32 M5.9 5.49 V11.96" fill="none" stroke="#15100c" stroke-width="0.8"/></g>
<g transform="translate(335.8 542.6)"><path d="M5.9 0 C9.44 0 10.15 3.66 10.62 6.71 C12.04 9.15 12.04 11.22 11.33 12.2 L0.47 12.2 C-0.24 11.22 -0.24 9.15 1.18 6.71 C1.65 3.66 2.36 0 5.9 0 Z" fill="#fff" stroke="#15100c" stroke-width="0.9"/><path d="M3.54 2.2 C4.25 6.1 3.54 8.54 1.42 11.59 M8.26 2.2 C7.55 6.1 8.26 8.54 10.38 11.59 M4.48 5.49 H7.32 M5.9 5.49 V11.96" fill="none" stroke="#15100c" stroke-width="0.8"/></g>
<g transform="translate(350.2 540.4)"><path d="M5.2 0 C8.32 0 8.94 4.32 9.36 7.92 C10.61 10.8 10.61 13.25 9.98 14.4 L0.42 14.4 C-0.21 13.25 -0.21 10.8 1.04 7.92 C1.46 4.32 2.08 0 5.2 0 Z" fill="#fff" stroke="#15100c" stroke-width="0.9"/><path d="M3.12 2.59 C3.74 7.2 3.12 10.08 1.25 13.68 M7.28 2.59 C6.66 7.2 7.28 10.08 9.15 13.68 M3.95 6.48 H6.45 M5.2 6.48 V14.11" fill="none" stroke="#15100c" stroke-width="0.8"/></g>
<g transform="translate(362.2 540.4)"><path d="M5 0 C8 0 8.6 4.32 9 7.92 C10.2 10.8 10.2 13.25 9.6 14.4 L0.4 14.4 C-0.2 13.25 -0.2 10.8 1 7.92 C1.4 4.32 2 0 5 0 Z" fill="#fff" stroke="#15100c" stroke-width="0.9"/><path d="M3 2.59 C3.6 7.2 3 10.08 1.2 13.68 M7 2.59 C6.4 7.2 7 10.08 8.8 13.68 M3.8 6.48 H6.2 M5 6.48 V14.11" fill="none" stroke="#15100c" stroke-width="0.8"/></g>
<g transform="translate(374.2 542.6)"><path d="M5.8 0 C9.28 0 9.98 3.66 10.44 6.71 C11.83 9.15 11.83 11.22 11.14 12.2 L0.46 12.2 C-0.23 11.22 -0.23 9.15 1.16 6.71 C1.62 3.66 2.32 0 5.8 0 Z" fill="#fff" stroke="#15100c" stroke-width="0.9"/><path d="M3.48 2.2 C4.18 6.1 3.48 8.54 1.39 11.59 M8.12 2.2 C7.42 6.1 8.12 8.54 10.21 11.59 M4.41 5.49 H7.19 M5.8 5.49 V11.96" fill="none" stroke="#15100c" stroke-width="0.8"/></g>
<g transform="translate(387.4 542.6)"><path d="M5.9 0 C9.44 0 10.15 3.66 10.62 6.71 C12.04 9.15 12.04 11.22 11.33 12.2 L0.47 12.2 C-0.24 11.22 -0.24 9.15 1.18 6.71 C1.65 3.66 2.36 0 5.9 0 Z" fill="#fff" stroke="#15100c" stroke-width="0.9"/><path d="M3.54 2.2 C4.25 6.1 3.54 8.54 1.42 11.59 M8.26 2.2 C7.55 6.1 8.26 8.54 10.38 11.59 M4.48 5.49 H7.32 M5.9 5.49 V11.96" fill="none" stroke="#15100c" stroke-width="0.8"/></g>
<g transform="translate(320.4 430.4)"><g><path d="M0 -0.5 C0.4 -1.2 3 -2 7.6 -3.6 C10.5 -5 14 -7.4 19.4 -11.8 Q20.6 -12.6 22.1 -12.1 C22.6 -9 22.7 -6 22.7 -3.6 L22.7 0 H21.5 L21.3 -4.4 C19.5 -3 17.2 -1.2 14.6 -0.5 C11 0 5 0.1 0 -0.5 Z" fill="#fff" stroke="#15100c" stroke-width="0.8"/><path d="M11.6 -2.6 C14.5 -4.6 17.5 -7.4 20.3 -10.4" fill="none" stroke="#15100c" stroke-width="0.6"/></g><g transform="translate(46.2 0) scale(-1 1)"><path d="M0 -0.5 C0.4 -1.2 3 -2 7.6 -3.6 C10.5 -5 14 -7.4 19.4 -11.8 Q20.6 -12.6 22.1 -12.1 C22.6 -9 22.7 -6 22.7 -3.6 L22.7 0 H21.5 L21.3 -4.4 C19.5 -3 17.2 -1.2 14.6 -0.5 C11 0 5 0.1 0 -0.5 Z" fill="#fff" stroke="#15100c" stroke-width="0.8"/><path d="M11.6 -2.6 C14.5 -4.6 17.5 -7.4 20.3 -10.4" fill="none" stroke="#15100c" stroke-width="0.6"/></g></g>
<g transform="translate(368.8 430.7) scale(0.97 0.97)"><g transform="translate(0 0)" fill="none" stroke="#111" stroke-linecap="round"><path d="M0 -9.4 L5 -8.6 L8 -7" stroke-width="1.2"/><path d="M1.6 -9 L1.9 -0.3 M2.7 -8.8 L2.8 -0.3" stroke-width="0.9"/><path d="M3.6 -14 L7.4 -10.4 M5.6 -14.6 L9.6 -10.6 M12.4 -14.4 L15.6 -11 M14.6 -14 L18.6 -10.4" stroke-width="1.3"/><path d="M7.4 -10 C9 -12.4 11.6 -12.6 13.4 -10.4 C15 -12.6 18.4 -12.6 21 -10.4" stroke-width="1.5"/><path d="M8 -8.4 L12.4 -2.6 M10 -9.6 L15.6 -2 M13.4 -9.4 L18.4 -2.2 M11 -3 L15.4 -9 M15.6 -2.6 L18.6 -8 M8.6 -6 L11 -1.2 M18 -6.4 L21 -3" stroke-width="1.2"/><path d="M19.4 -2.8 C21 -5.2 23.4 -4.8 24.6 -2.6 C26 -4.6 28.4 -4.4 29.6 -2.8 L32.6 -2.6" stroke-width="1.2"/><path d="M9 -0.9 C16 -0.4 26 -1 32.8 -1.6" stroke-width="1.1"/><path d="M11 -6 L14 -4 L16.6 -6.4 L14 -8.4 Z" fill="#fff" stroke-width="0.5"/></g></g>
<g transform="translate(321 469.1)"><path d="M0.2 10.4 C0 7.28 0.6 5.2 1.6 4.37 H8 C9 5.2 9.6 7.28 9.4 10.4 Z" fill="#fff" stroke="#111" stroke-width="0.7"/><path d="M-0.4 5.2 L1.2 3.12 C2 2.08 2.8 1.25 3.4 0.4 C4 -0.2 5.6 -0.2 6.2 0.4 C6.8 1.25 7.6 2.08 8.4 3.12 L10 5.2 C7.2 6.86 2.4 6.86 -0.4 5.2 Z" fill="#111"/><path d="M0.5 8.94 H9.1" stroke="#111" stroke-width="0.6" fill="none"/></g>
<g transform="translate(330.7 469.1)"><path d="M0.2 10.4 C0 7.28 0.6 5.2 1.6 4.37 H8 C9 5.2 9.6 7.28 9.4 10.4 Z" fill="#fff" stroke="#111" stroke-width="0.7"/><path d="M-0.4 5.2 L1.2 3.12 C2 2.08 2.8 1.25 3.4 0.4 C4 -0.2 5.6 -0.2 6.2 0.4 C6.8 1.25 7.6 2.08 8.4 3.12 L10 5.2 C7.2 6.86 2.4 6.86 -0.4 5.2 Z" fill="#111"/><path d="M0.5 8.94 H9.1" stroke="#111" stroke-width="0.6" fill="none"/></g>
<g transform="translate(341.6 466.7)"><path d="M0.2 12.8 C0 9.8 0.4 7.8 1.4 6.4 L2.2 0.6 C3.4 0 5.4 0 6.6 0.6 L7.4 6.4 C8.4 7.8 8.8 9.8 8.6 12.8 Z" fill="#1a1a1a" stroke="#111" stroke-width="0.6"/><path d="M1.2 12 C1.2 9.2 2.6 7.8 4.4 7.8 C6.2 7.8 7.6 9.2 7.6 12 Z" fill="#fff"/><path d="M3.2 1.6 L3.8 6.3 M5.6 1.6 L5 6.3" stroke="#eee" stroke-width="0.7" fill="none"/><path d="M0.6 11.2 H8.2" stroke="#111" stroke-width="0.6" fill="none"/></g>
<g transform="translate(350.6 466.7)"><path d="M0.2 12.8 C0 9.8 0.4 7.8 1.4 6.4 L2.2 0.6 C3.4 0 5.4 0 6.6 0.6 L7.4 6.4 C8.4 7.8 8.8 9.8 8.6 12.8 Z" fill="#1a1a1a" stroke="#111" stroke-width="0.6"/><path d="M1.2 12 C1.2 9.2 2.6 7.8 4.4 7.8 C6.2 7.8 7.6 9.2 7.6 12 Z" fill="#fff"/><path d="M3.2 1.6 L3.8 6.3 M5.6 1.6 L5 6.3" stroke="#eee" stroke-width="0.7" fill="none"/><path d="M0.6 11.2 H8.2" stroke="#111" stroke-width="0.6" fill="none"/></g>
<g transform="translate(360 469.1)"><path d="M0.2 10.4 C0 7.28 0.6 5.2 1.6 4.37 H8 C9 5.2 9.6 7.28 9.4 10.4 Z" fill="#fff" stroke="#111" stroke-width="0.7"/><path d="M-0.4 5.2 L1.2 3.12 C2 2.08 2.8 1.25 3.4 0.4 C4 -0.2 5.6 -0.2 6.2 0.4 C6.8 1.25 7.6 2.08 8.4 3.12 L10 5.2 C7.2 6.86 2.4 6.86 -0.4 5.2 Z" fill="#111"/><path d="M0.5 8.94 H9.1" stroke="#111" stroke-width="0.6" fill="none"/></g>
<g transform="translate(369.2 469.1)"><path d="M0.2 10.4 C0 7.28 0.6 5.2 1.6 4.37 H8 C9 5.2 9.6 7.28 9.4 10.4 Z" fill="#fff" stroke="#111" stroke-width="0.7"/><path d="M-0.4 5.2 L1.2 3.12 C2 2.08 2.8 1.25 3.4 0.4 C4 -0.2 5.6 -0.2 6.2 0.4 C6.8 1.25 7.6 2.08 8.4 3.12 L10 5.2 C7.2 6.86 2.4 6.86 -0.4 5.2 Z" fill="#111"/><path d="M0.5 8.94 H9.1" stroke="#111" stroke-width="0.6" fill="none"/></g>
<g transform="translate(380.3 463.7)"><path d="M0.2 15.8 C0 12.8 0.4 10.8 1.4 9.4 L2.2 0.6 C3.4 0 6.3 0 7.5 0.6 L8.3 9.4 C9.3 10.8 9.7 12.8 9.5 15.8 Z" fill="#1a1a1a" stroke="#111" stroke-width="0.6"/><path d="M1.2 15 C1.2 12.2 2.6 10.8 4.85 10.8 C7.1 10.8 8.5 12.2 8.5 15 Z" fill="#fff"/><path d="M3.65 1.6 L4.25 9.3 M6.05 1.6 L5.45 9.3" stroke="#eee" stroke-width="0.7" fill="none"/><path d="M0.6 14.2 H9.1" stroke="#111" stroke-width="0.6" fill="none"/></g>
<g transform="translate(390.3 463.7)"><path d="M0.2 15.8 C0 12.8 0.4 10.8 1.4 9.4 L2.2 0.6 C3.4 0 6.3 0 7.5 0.6 L8.3 9.4 C9.3 10.8 9.7 12.8 9.5 15.8 Z" fill="#1a1a1a" stroke="#111" stroke-width="0.6"/><path d="M1.2 15 C1.2 12.2 2.6 10.8 4.85 10.8 C7.1 10.8 8.5 12.2 8.5 15 Z" fill="#fff"/><path d="M3.65 1.6 L4.25 9.3 M6.05 1.6 L5.45 9.3" stroke="#eee" stroke-width="0.7" fill="none"/><path d="M0.6 14.2 H9.1" stroke="#111" stroke-width="0.6" fill="none"/></g>
<g transform="translate(321 493.4)"><path d="M0.2 10.4 C0 7.28 0.6 5.2 1.6 4.37 H8 C9 5.2 9.6 7.28 9.4 10.4 Z" fill="#fff" stroke="#111" stroke-width="0.7"/><path d="M-0.4 5.2 L1.2 3.12 C2 2.08 2.8 1.25 3.4 0.4 C4 -0.2 5.6 -0.2 6.2 0.4 C6.8 1.25 7.6 2.08 8.4 3.12 L10 5.2 C7.2 6.86 2.4 6.86 -0.4 5.2 Z" fill="#111"/><path d="M0.5 8.94 H9.1" stroke="#111" stroke-width="0.6" fill="none"/></g>
<g transform="translate(330.7 493.4)"><path d="M0.2 10.4 C0 7.28 0.6 5.2 1.6 4.37 H8 C9 5.2 9.6 7.28 9.4 10.4 Z" fill="#fff" stroke="#111" stroke-width="0.7"/><path d="M-0.4 5.2 L1.2 3.12 C2 2.08 2.8 1.25 3.4 0.4 C4 -0.2 5.6 -0.2 6.2 0.4 C6.8 1.25 7.6 2.08 8.4 3.12 L10 5.2 C7.2 6.86 2.4 6.86 -0.4 5.2 Z" fill="#111"/><path d="M0.5 8.94 H9.1" stroke="#111" stroke-width="0.6" fill="none"/></g>
<g transform="translate(341.6 491)"><path d="M0.2 12.8 C0 9.8 0.4 7.8 1.4 6.4 L2.2 0.6 C3.4 0 5.4 0 6.6 0.6 L7.4 6.4 C8.4 7.8 8.8 9.8 8.6 12.8 Z" fill="#1a1a1a" stroke="#111" stroke-width="0.6"/><path d="M1.2 12 C1.2 9.2 2.6 7.8 4.4 7.8 C6.2 7.8 7.6 9.2 7.6 12 Z" fill="#fff"/><path d="M3.2 1.6 L3.8 6.3 M5.6 1.6 L5 6.3" stroke="#eee" stroke-width="0.7" fill="none"/><path d="M0.6 11.2 H8.2" stroke="#111" stroke-width="0.6" fill="none"/></g>
<g transform="translate(350.6 491)"><path d="M0.2 12.8 C0 9.8 0.4 7.8 1.4 6.4 L2.2 0.6 C3.4 0 5.4 0 6.6 0.6 L7.4 6.4 C8.4 7.8 8.8 9.8 8.6 12.8 Z" fill="#1a1a1a" stroke="#111" stroke-width="0.6"/><path d="M1.2 12 C1.2 9.2 2.6 7.8 4.4 7.8 C6.2 7.8 7.6 9.2 7.6 12 Z" fill="#fff"/><path d="M3.2 1.6 L3.8 6.3 M5.6 1.6 L5 6.3" stroke="#eee" stroke-width="0.7" fill="none"/><path d="M0.6 11.2 H8.2" stroke="#111" stroke-width="0.6" fill="none"/></g>
<g transform="translate(360 493.4)"><path d="M0.2 10.4 C0 7.28 0.6 5.2 1.6 4.37 H8 C9 5.2 9.6 7.28 9.4 10.4 Z" fill="#fff" stroke="#111" stroke-width="0.7"/><path d="M-0.4 5.2 L1.2 3.12 C2 2.08 2.8 1.25 3.4 0.4 C4 -0.2 5.6 -0.2 6.2 0.4 C6.8 1.25 7.6 2.08 8.4 3.12 L10 5.2 C7.2 6.86 2.4 6.86 -0.4 5.2 Z" fill="#111"/><path d="M0.5 8.94 H9.1" stroke="#111" stroke-width="0.6" fill="none"/></g>
<g transform="translate(369.2 493.4)"><path d="M0.2 10.4 C0 7.28 0.6 5.2 1.6 4.37 H8 C9 5.2 9.6 7.28 9.4 10.4 Z" fill="#fff" stroke="#111" stroke-width="0.7"/><path d="M-0.4 5.2 L1.2 3.12 C2 2.08 2.8 1.25 3.4 0.4 C4 -0.2 5.6 -0.2 6.2 0.4 C6.8 1.25 7.6 2.08 8.4 3.12 L10 5.2 C7.2 6.86 2.4 6.86 -0.4 5.2 Z" fill="#111"/><path d="M0.5 8.94 H9.1" stroke="#111" stroke-width="0.6" fill="none"/></g>
<g transform="translate(380.3 488)"><path d="M0.2 15.8 C0 12.8 0.4 10.8 1.4 9.4 L2.2 0.6 C3.4 0 6.3 0 7.5 0.6 L8.3 9.4 C9.3 10.8 9.7 12.8 9.5 15.8 Z" fill="#1a1a1a" stroke="#111" stroke-width="0.6"/><path d="M1.2 15 C1.2 12.2 2.6 10.8 4.85 10.8 C7.1 10.8 8.5 12.2 8.5 15 Z" fill="#fff"/><path d="M3.65 1.6 L4.25 9.3 M6.05 1.6 L5.45 9.3" stroke="#eee" stroke-width="0.7" fill="none"/><path d="M0.6 14.2 H9.1" stroke="#111" stroke-width="0.6" fill="none"/></g>
<g transform="translate(390.3 488)"><path d="M0.2 15.8 C0 12.8 0.4 10.8 1.4 9.4 L2.2 0.6 C3.4 0 6.3 0 7.5 0.6 L8.3 9.4 C9.3 10.8 9.7 12.8 9.5 15.8 Z" fill="#1a1a1a" stroke="#111" stroke-width="0.6"/><path d="M1.2 15 C1.2 12.2 2.6 10.8 4.85 10.8 C7.1 10.8 8.5 12.2 8.5 15 Z" fill="#fff"/><path d="M3.65 1.6 L4.25 9.3 M6.05 1.6 L5.45 9.3" stroke="#eee" stroke-width="0.7" fill="none"/><path d="M0.6 14.2 H9.1" stroke="#111" stroke-width="0.6" fill="none"/></g>
</g>
<path d="M86.5 558.2 L21 600 M184.3 558.2 L168.2 600 M296.4 558.2 L319.4 600 M404 558.2 L468 600" fill="none" stroke="#151515" stroke-width="0.9"/>
<g id="sofa" fill="#fff" stroke="#4a4a4a" stroke-width="0.6" stroke-linejoin="round" stroke-linecap="round">
<path d="M638.1 474.6 C644 474.4 648 475.4 650.5 476.6 Q652.5 477.6 652.5 479.5 V512.6 Q652.5 514.8 650.3 514.8 H638.1 Z" stroke="#8a8a8a"/>
<path d="M533 491.5 V476 Q533 473.2 536 473.2 H626 V491.5 Z" stroke="#9a9a9a"/>
<path d="M474.4 489 V477 Q474.4 474 477.4 474 H529.5 Q532.5 474 532.5 477 V489.4 Z" stroke="#6a6a6a"/>
<path d="M532.6 491.4 H626 L638.1 493.6 V514.4 H532.6 Z"/>
<path d="M532.6 494 H637 Q638.1 494 638.1 495.2 V501.3 Q638.1 502.5 637 502.5 H532.6" fill="none"/>
<path d="M541.3 514.4 L541.9 516.9 H543.4 L543.8 514.4 M625 514.4 L625.5 517.2 H627 L627.5 514.4" fill="#fff"/>
<path d="M625.7 475.4 C630 475.8 634 476.6 638.1 477.6 V492.8 C634 492.2 630 491.4 626.6 491 C626.8 486 626.4 480 625.7 475.4 Z"/>
<path d="M533.9 472.5 C540.4 473.5 549.1 473.3 555.0 471.9 C554.2 478.7 554.6 485.4 556.0 490.6 C549.1 489.6 540.4 490.2 534.5 491.2 C535.1 485.4 534.9 478.7 533.9 472.5 Z"/>
<path d="M564.4 472.5 C570.9 473.5 579.7 473.3 585.6 471.9 C584.8 478.7 585.2 485.4 586.6 490.6 C579.7 489.6 570.9 490.2 565.0 491.2 C565.6 485.4 565.4 478.7 564.4 472.5 Z"/>
<path d="M590.7 472.5 C597.2 473.5 606.0 473.3 611.9 471.9 C611.1 478.7 611.5 485.4 612.9 490.6 C606.0 489.6 597.2 490.2 591.3 491.2 C591.9 485.4 591.7 478.7 590.7 472.5 Z"/>
<path d="M478.4 471.7 C484.9 472.7 493.7 472.5 499.6 471.1 C498.8 477.9 499.2 484.8 500.6 490.0 C493.7 489.0 484.9 489.6 479.0 490.6 C479.6 484.8 479.4 477.9 478.4 471.7 Z"/>
<path d="M501.4 471.7 C507.9 472.7 516.6 472.5 522.5 471.1 C521.7 477.9 522.1 484.8 523.5 490.0 C516.6 489.0 507.9 489.6 502.0 490.6 C502.6 484.8 502.4 477.9 501.4 471.7 Z"/>
<path d="M444.6 498.1 L474.4 489 H532.4 L526 498.1 Z"/>
<path d="M526 498.1 L532.5 489.6 V514.4 L527.6 524.4 V509 Q528.6 503 526 498.1 Z"/>
<path d="M444.8 498.1 H525.4 Q528.2 498.3 528.2 501 V507 Q528.2 509.4 525.8 509.4 H444.6 Q442.3 509.4 442.3 507 V500.6 Q442.3 498.1 444.8 498.1 Z"/>
<path d="M442.3 508 V524.4 H527.6 V508" />
<path d="M444.8 509.4 H525.6" fill="none"/>
<path d="M450.3 524.4 L450.8 526.9 H452.6 L453.1 524.4 M518.8 524.4 L519.3 526.9 H521.3 L521.9 524.4"/>
</g>
<g id="trees"><path d="M718.8 397.3L720.6 399.3L724 398.8L726.1 400.8L727.1 404L730.6 403.2L732.5 405.4L735.5 405.1L736.9 407.2L739.5 408.9L741.5 410.3L742.8 412.8L744.3 414.3L748.4 414.8L749.1 417.2L751.5 417.7L753.7 419.6L755.9 421L757.7 420L760.7 420.8L762 420L764.1 420.5L765.8 422.7L767.2 424L770.2 424.7L772.8 424.4L773.9 428.3L775 429.1L777.3 431.2L778.8 433.6L777.2 436.1L775.4 438.3L774.2 439.8L774.4 442.5L772.5 445.1L770.7 447.3L771 450.6L769.6 452.7L771.7 454.2L772.9 456.1L772.7 459L773.5 461.8L771.2 463.9L768.6 461.9L765.5 462.5L762.3 463L759.9 462L758.8 461.6L755.7 462L753.3 463.1L750 462.1L748 464L744.4 463.4L742.9 465.4L741.3 467.8L740 469.4L737.3 470.5L734.5 470.6L736.8 472.5L737.6 475.3L736.6 477.9L735.1 481.3L734.2 477.9L732.6 477.4L730.3 476.5L727.5 475L726.1 477.2L725 477.5L721.7 479.4L720.2 481.9L722.1 485.3L719.5 488L718.3 495L717.2 504.3L715.5 513.7L713.7 523L712.3 532.3L711.3 541.7L710.4 551L709.9 556.1L703.2 556.1L704.8 548.7L706.7 539.3L708.5 527.7L710.2 516L712.5 502L714.1 490.3L712.5 483.3L710.4 482.1L709.1 480.1L706.7 478.7L705.7 476.3L703.2 476.3L703.2 475L700.2 474.8L699.8 476.7L697.5 479.4L694.9 480.3L691.9 480.6L688.9 479.7L689.8 476.2L687.3 474.7L689.6 473.6L689.9 472.4L688.2 470.8L684.1 470.8L684.9 467.2L686.9 466.6L687.8 465.2L685.7 463.7L683.8 463.2L682.3 464.6L681.3 464L680.1 461.5L677.1 460.2L679.9 458.9L681.7 456.3L678.7 454.4L678.2 452.4L675.2 451.5L673.4 449.7L671.6 449.1L670.8 446.9L668.5 444.6L670.1 441.6L672.8 439.6L670.5 437.6L669.4 433.8L672.2 431.5L672.5 428L674.7 426.5L679 425.5L677.1 422.1L679.1 419.5L680.9 417.2L680.9 414.8L683.3 413.6L685.5 412L687.9 413.4L691.2 413.6L692.3 412.6L693.5 410.2L694.3 407.1L696.7 406.4L699.8 407.6L702.1 405.1L704.6 405.7L706.2 404.2L708.2 403.5L709.9 402.5L713.1 402L715 400.2Z" fill="#e6e6e6"/>
<ellipse cx="691" cy="556.3" rx="14" ry="1.3" fill="#e6e6e6"/>
<path d="M695.3 462L696.9 461.5L699.3 461.1L701.2 460.2L702.4 462.4L703 464.6L701.3 466.6L701.1 469.1L698.4 469L695.4 468.7L694.9 466.3L692.9 464.6L694.7 462.9Z" fill="#fff"/>
<path d="M705.5 466.6L707 466.6L709.2 466.3L710.2 464.7L712 464.9L713.5 466.1L713.5 469.1L714.3 470.3L713.9 472.6L713.6 474.3L714 475.9L712.4 477.4L709.7 477.7L707.7 476.3L707.6 473.9L706 471.8L704.9 469.6Z" fill="#fff"/>
<path d="M725.3 468.5L727.1 468L728.8 467.5L730.8 465.9L732.6 466.1L734.7 466.5L737 467.1L740.1 467.2L738.3 469.5L738.3 471.6L736.6 472.5L734.3 472.5L732.5 474.1L729.5 474.5L727.8 474.1L725.3 473L725.8 470.4Z" fill="#fff"/>
<path d="M734.7 461L736.7 458.8L739 458.8L740.3 460.6L741.7 463.2L739.4 463.8L736.4 465L736.3 463.1L735.7 461.4Z" fill="#fff"/>
<path d="M837.1 451.8L840.2 452.6L843 454.5L842.7 457.2L844.5 459.1L846.2 462L844.2 464.7L845.5 468.1L842.9 470.2L839.7 473L842.1 473.6L844.8 472.8L846.2 476L848.6 476L851 477.1L853.2 477.2L855 479.4L859 479.7L860.4 481.5L860.5 485.1L860.4 488.3L862.4 490.5L861.1 492.6L860.2 495.3L860.2 497.8L860.2 500.4L860.3 502.6L858.9 505.1L858.6 507.2L855.5 509L856.7 511.9L854.7 513.9L856.8 516.7L856.8 518.5L856.7 521.1L856.1 523.3L856 526L854.8 528.1L854.4 530.6L854.6 532.7L854.8 534.8L853.2 536.9L853.9 540L853.1 542.1L852 543.9L849.4 544L847.1 547.3L844.4 549.5L841.7 547.8L839.3 549.4L836.8 547L834.8 546.6L832 548.1L830.4 546.6L827.5 548.4L825.4 547L822.7 548.4L821.2 545.9L818.7 545.7L815.9 546.2L812.8 547.8L810.4 545.5L806.9 545.5L804.2 547.1L801.7 548.3L800 545.6L797.6 546L795.4 546.3L792.8 545.2L790.3 545.3L788.6 544.2L786.5 542.9L782.4 544.8L781.7 541.5L780.4 539.4L777.3 539.2L777.1 536.4L775.1 534.4L773.1 532.2L770.1 531.6L768.6 529.4L768.7 526.3L766.8 525L765.9 522.7L763.2 520.9L761.1 518.3L763.2 515.8L765.8 513.9L764.5 511.2L762.3 509.2L763.8 506.6L764.2 504.2L766 502.7L768.4 501.8L770.8 500.2L770.8 496.9L768.7 495.7L768.7 492.7L770 491.8L771.9 489.1L770.1 485.1L772.1 484.2L774.3 482.8L776.7 482.8L775.7 479.4L777 476L779.4 476.2L780.9 474L783.8 472.7L784.6 470.3L781.6 465.7L784.3 467.4L786.5 466.2L787.8 465.1L790.6 464.9L792.1 462.4L794.7 461.5L797.2 462.8L799.6 459.4L801.9 460.1L803.8 459L806.2 458L808.6 457.2L811.5 457.8L813.4 458.2L815.4 456L818.6 457.9L821 456.4L823.2 457.3L825.6 456.7L828.2 455.4L830.5 455.3L832.1 452.7L834 451.7Z" fill="#e6e6e6"/>
<ellipse cx="811" cy="564.3" rx="3.4" ry="1.1" fill="#e6e6e6"/>
<path d="M1013.4 343.7L1014.8 345.8L1017.3 347.4L1016.7 351.1L1021.2 350.8L1024.4 354.2L1021.4 355.8L1023.5 358.6L1022.3 361L1021 363.9L1023.8 364.2L1026.2 365L1027.5 365.8L1028.8 367.2L1030.9 369.4L1031.8 371.8L1028.5 372.5L1029.5 376.8L1026 376.2L1024.5 378.5L1022.6 381.9L1018.7 380.7L1021.7 383.5L1021.2 385L1023.9 385L1025.7 387.4L1028.6 386.4L1030.7 388.9L1033.7 387.3L1035.2 389.7L1038.1 388.6L1040.2 389.1L1043.5 389.3L1044.3 392.8L1045.8 395.7L1048 396.8L1050.4 398.4L1054.3 399.5L1056.1 401.7L1056.1 404.3L1060 407.5L1055.9 408.2L1054.7 409.8L1053.1 412.8L1056.4 413.4L1059.4 412.8L1061.7 412.9L1064.9 414.3L1065 417.7L1066.4 420.7L1068.4 421.7L1072.1 423.6L1070.4 425.7L1070.6 428.8L1072.5 430.7L1071.8 433.7L1069.4 433.5L1066.7 433.3L1064.8 433.7L1062.3 435L1060.1 437.1L1057.7 438.7L1055 439.1L1054.5 442.6L1052.4 443.8L1049.2 445L1047.3 447.3L1045.1 448.7L1042.6 450.4L1039.6 451.4L1042 453.2L1044.2 454L1047.4 452.2L1049.3 455.3L1051.6 454.5L1054.5 455.4L1056.7 456.5L1059.3 455.1L1061.7 456.2L1063.5 458.4L1065.2 460.5L1069.8 461.1L1065.5 461.1L1062.5 462.6L1060.9 466.1L1058.7 466.4L1056.5 465.4L1054.4 465.5L1051.6 465.1L1049.1 467.1L1046.8 464.9L1044.9 466.6L1042.6 465.4L1039.7 464.7L1037.2 465.6L1036.2 469.1L1034.1 469.8L1036.5 471.6L1038.4 471.7L1041.1 472.8L1044.1 471.1L1045.7 474.4L1048.9 472.4L1050.6 472.6L1053.4 473.9L1056.4 472.1L1057.4 476L1059.8 476.6L1063 476.9L1065.4 478.1L1066.8 479.7L1070 479.3L1072.3 480.5L1074.7 481.5L1076.9 483.8L1079.3 485.6L1081.5 486.2L1083.7 487.6L1083.9 491.1L1086 491.3L1084.5 493.9L1084.7 497L1083.2 499L1081.3 501.6L1078.5 501.2L1076.6 501L1073.4 500.9L1072 503.5L1069.5 503.3L1066.3 502.6L1064.9 505.5L1062.4 505.9L1059.8 506.5L1057.9 507.5L1055.2 506.8L1052.6 509.2L1049.6 506L1046.8 506.4L1042.9 506.3L1041.8 508.3L1039.9 510.3L1040.3 513.9L1037.8 516.4L1034.8 513.1L1032.2 515.7L1028.8 515.3L1027 518.3L1024.3 518.2L1022.7 521.4L1019.3 519.8L1019.9 524.1L1015.8 525L1015.6 527.8L1013.5 531.8L1011.6 529.6L1009.8 526.8L1007.8 525.5L1007 522.9L1004 522L996 528L987.5 530L986.5 545L987.2 562L973.3 562L974.5 545L974.2 530L971.5 529.2L969.2 529.5L966.3 530L963.9 527.3L961.4 526.5L958.5 526.2L955.2 525.8L952.3 526.2L950 524.8L947.3 524.1L944.8 525.8L942.8 527.4L939.8 526.8L937.5 529.7L934.6 528.7L932 529.4L929.7 529.8L927 529.1L923.8 527.7L921.5 531.6L917.6 531.1L916 528.1L914.1 526L911.7 524.2L910.1 521.3L909.5 518L906.8 516.3L904.4 515.4L904.4 512.5L902.1 511.9L899.9 510L898.6 507.1L896.4 505.9L894.1 504.8L891.6 503.2L891.6 500.3L892.4 498.5L893.8 496.2L893.8 494L892.3 492.8L890.3 490L889.3 488.4L885.7 488.6L884.6 486.4L883.1 484.2L882.7 481.9L877.3 481.4L877.3 478.1L875.5 475.8L877.8 474.8L878.5 471.9L880.2 470.6L880.2 470L881.5 466.2L879.2 464.7L878.1 462.2L878.9 459.6L882 457.9L880.3 454.1L881.3 453.7L881.4 450.6L877.9 450.2L876.3 446.6L879.7 444.3L880.5 440.8L883.7 440.4L886.4 444.2L889.5 442.2L891.3 441.7L894 442.9L895.8 440.3L897.6 440.5L899 437.1L897.1 433.6L895.4 430.7L892.7 431.3L892.4 430.8L889.3 427.3L890 423.6L894.5 423.6L894.8 420.6L894.2 418.3L895.2 415.5L894.1 413.6L893.8 411.3L896.7 410.6L899 410.3L901.3 409.1L904 408.3L906.3 406.1L907.8 404.6L909.4 401.2L905.7 400L907.7 397.7L905.2 394.6L905.3 391.4L907.6 388.6L910.2 387.2L913.6 388.4L916.7 388.6L919.5 390.2L920.9 393.2L923.9 394.3L924.7 396.9L924.3 393.5L925.8 390.6L923.2 388.3L923 385.1L918.2 385.8L919.1 382L914.7 380.7L915.3 378.2L916.5 375.2L914.9 373.2L917.8 370.8L920.1 373.3L922.5 372.8L925.6 371.6L928.3 372.9L931.6 370.2L934.9 371.6L936 369.3L937.5 366.6L939.3 365.9L940.7 362.9L941.8 361L942.8 359L945.9 358.6L947.7 360.2L949.9 363.2L952.1 362.4L954.4 362.7L957.1 362.6L958.7 362.6L962.3 364.1L963.5 360.1L964.8 358.5L967.7 358.9L971 359.6L974 357.5L976.6 359.3L979.2 357.7L982.5 357.1L984.1 353.8L986.5 355.7L988.1 357.7L991.2 355.4L992.9 358.6L995.4 357.4L997.3 356.5L1001.1 355.4L1000.5 352.7L1002.5 352.3L1004.3 351.2L1006.3 348.9L1007.9 347.4L1010.8 345.2Z" fill="#e6e6e6"/>
<ellipse cx="979.5" cy="566" rx="35" ry="1.6" fill="#e6e6e6"/>
<path d="M973.5 560 C973 564 968 565.5 960 566.2 H999 C991 565.5 987.5 564 987 560 Z" fill="#e6e6e6"/></g>
<g id="people"><path d="M698 485C699.5 485.2 702.4 485.6 704 486.6C705.6 487.6 706.8 489.3 707.6 491C708.4 492.7 708.9 495 709 497C709.1 499 708.7 501.3 708 503C707.3 504.7 706 506.2 705 507.4C704 508.6 702.2 509.1 702 510C701.8 510.9 703.2 511.8 704 513C704.8 514.2 706 515.7 707 517C708 518.3 708.8 519.7 710 520.6C711.2 521.5 712.2 522.2 714 522.6C715.8 523 718.8 522.9 721 523C723.2 523.1 725.5 522.7 727 523C728.5 523.3 729.4 523.9 730 524.6C730.6 525.3 730.9 526.9 730.6 527.4C730.3 527.9 728.9 527.6 728 527.4C727.1 527.2 726.5 526.1 725 526C723.5 525.9 721 526.4 719 526.6C717 526.8 714.8 527.5 713 527.4C711.2 527.3 709.2 526.4 708 526C706.8 525.6 706.7 524.3 706 525C705.3 525.7 704.5 528 704 530C703.5 532 703.1 534.5 703 537C702.9 539.5 703.2 542.5 703.4 545C703.6 547.5 704.1 550 704.4 552C704.7 554 705.1 555.7 705 557C704.9 558.3 704.7 558.8 704 560C703.3 561.2 702 562.5 701 564C700 565.5 698.8 567.3 698 569C697.2 570.7 696.5 572.5 696 574C695.5 575.5 694.8 577 695 578C695.2 579 696.4 579.3 697 580C697.6 580.7 698.9 581.5 698.6 582C698.3 582.5 696.4 582.8 695 583C693.6 583.2 691.3 583.3 690 583C688.7 582.7 687.6 582.2 687.4 581.4C687.2 580.6 688.2 579.2 688.6 578C689 576.8 689.6 575.5 690 574C690.4 572.5 690.7 570.5 691 569C691.3 567.5 692 566 692 565C692 564 691.6 562.8 691 563C690.4 563.2 689.3 565 688.6 566C687.9 567 687 567.8 686.6 569C686.2 570.2 686.3 572 686 573C685.7 574 685.6 574.9 685 575C684.4 575.1 683.1 574.4 682.6 573.4C682.1 572.4 681.9 570.4 682 569C682.1 567.6 682.5 566 683 565C683.5 564 684 563.7 685 563C686 562.3 688 561.7 689 561C690 560.3 690.7 560 691 559C691.3 558 690.9 556.5 690.6 555C690.3 553.5 689.5 551.7 689 550C688.5 548.3 687.8 546.8 687.4 545C687 543.2 686.7 541 686.6 539C686.5 537 686.9 534.8 687 533C687.1 531.2 687.5 529.7 687.4 528C687.3 526.3 687 524 686.6 523C686.2 522 685.6 521.7 685 522C684.4 522.3 683.6 523.8 683 525C682.4 526.2 681.7 527.7 681.4 529C681.1 530.3 681.4 531.8 681 533C680.6 534.2 679.8 535.5 679 536C678.2 536.5 676.8 536.2 676 536C675.2 535.8 674.2 535.3 674 534.6C673.8 533.9 674.5 532.8 675 532C675.5 531.2 676.4 531.2 677 530C677.6 528.8 678 526.6 678.6 525C679.2 523.4 679.7 522.3 680.6 520.6C681.5 518.9 682.8 516.6 684 515C685.2 513.4 686.7 512.2 688 511C689.3 509.8 691.7 509.2 692 508C692.3 506.8 690.6 505.5 690 504C689.4 502.5 688.6 500.8 688.4 499C688.2 497.2 688.2 494.8 688.6 493C689 491.2 689.9 489.3 691 488C692.1 486.7 693.8 485.9 695 485.4C696.2 484.9 696.5 484.8 698 485Z" fill="#fff" stroke="#0a0a0a" stroke-width="0.7" stroke-linejoin="round"/>
<path d="M764.1 532.3C764.4 532.4 764.4 533.9 765 534.7C765.6 535.4 766.6 536 767.7 536.7C768.8 537.3 770.3 538.1 771.7 538.7C773 539.2 774.6 539.5 775.7 540C776.8 540.5 777.8 540.9 778.3 541.6C778.8 542.3 779 543.3 778.7 544C778.5 544.7 777.7 545.6 777 546C776.3 546.4 775.1 546.2 774.3 546.7C773.6 547.1 772.8 547.9 772.3 548.7C771.8 549.4 771.3 550.4 771.3 551.3C771.2 552.2 771.6 553.3 772.1 554C772.6 554.7 773.3 555.1 774.3 555.7C775.4 556.4 776.9 557.3 778.3 558C779.8 558.7 781.6 559.6 783 560C784.4 560.4 786 560.3 786.7 560.7C787.4 561.1 787.4 562 787.3 562.4C787.1 562.8 786.5 563.3 785.7 563.3C784.8 563.4 783.7 563.1 782.3 562.7C781 562.2 779.1 561.3 777.7 560.7C776.2 560 774.7 559.1 773.7 558.7C772.7 558.2 771.7 557.6 771.7 558C771.7 558.4 773 560.2 773.7 561.3C774.3 562.4 775.3 563.6 775.7 564.7C776 565.8 776 567.2 775.7 568C775.3 568.8 774.3 569.4 773.7 569.6C773 569.8 771.9 569.6 771.7 569.1C771.4 568.6 772.2 567.6 772.1 566.7C772 565.7 771.5 564.3 771 563.3C770.5 562.3 769.8 561.3 769 560.7C768.2 560 767.4 559.6 766.3 559.3C765.2 559.1 763.8 559.1 762.3 559.3C760.9 559.6 759.3 560.2 757.7 560.7C756 561.1 754.1 561.7 752.3 562C750.6 562.3 748.8 562.6 747 562.7C745.2 562.8 743.2 562.6 741.7 562.7C740.1 562.7 738.8 562.6 737.7 562.9C736.6 563.3 735.9 564 735 564.7C734.1 565.3 733.4 566.1 732.3 566.7C731.2 567.3 729.7 568 728.3 568.3C727 568.5 725.7 568.4 724.3 568.3C723 568.1 721.6 567.6 720.3 567.3C719.1 567.1 718.1 566.7 717 566.7C715.9 566.7 714.9 566.9 713.7 567.3C712.4 567.7 711 568.6 709.7 569.1C708.3 569.6 707 570 705.7 570.4C704.3 570.8 702.8 571.2 701.7 571.3C700.6 571.4 699.6 571.3 699 570.9C698.4 570.6 698 570 698.3 569.1C698.7 568.1 700.1 566.6 701 565.3C701.9 564 702.9 562.4 703.7 561.3C704.4 560.2 704.7 559.4 705.7 558.7C706.7 557.9 708.3 557.3 709.7 556.7C711 556 712.6 555.3 713.7 554.7C714.8 554 716.4 553.4 716.3 552.7C716.2 551.9 714.2 551 713 550C711.8 549 710.1 547.9 709 546.7C707.9 545.4 706.9 544 706.3 542.7C705.8 541.3 705.4 539.9 705.7 538.7C705.9 537.4 706.8 536.2 707.7 535.3C708.6 534.4 709.8 533.8 711 533.3C712.2 532.8 713.8 532.3 715 532.3C716.2 532.3 717.4 532.8 718.3 533.3C719.2 533.8 720.3 534.7 720.3 535.3C720.3 536 719.2 536.8 718.3 537.1C717.4 537.3 715.9 536.4 715 536.7C714.1 536.9 713.2 537.8 713 538.7C712.8 539.6 713.1 540.7 713.7 542C714.2 543.3 715.3 545.1 716.3 546.7C717.3 548.2 718.4 550.7 719.7 551.3C720.9 552 722 551 723.7 550.7C725.3 550.4 727.6 549.7 729.7 549.6C731.8 549.5 734.1 549.9 736.3 550C738.6 550.1 741 550.2 743 550C745 549.8 746.6 549.2 748.3 548.7C750.1 548.1 752.1 547.3 753.7 546.7C755.2 546 756.6 545.4 757.7 544.7C758.8 543.9 759.7 543.1 760.3 542C761 540.9 761.2 539.3 761.7 538C762.1 536.7 762.6 535 763 534C763.4 533 763.7 532.2 764.1 532.3Z" fill="#fff" stroke="#0a0a0a" stroke-width="0.7" stroke-linejoin="round"/>
<path d="M706.3 562.7C707.2 562 709.6 561.1 711 560.7C712.4 560.3 714.2 560 715 560.3C715.8 560.5 716.1 561.3 715.7 562C715.2 562.7 713.6 564 712.3 564.7C711.1 565.3 709.4 566 708.3 566C707.2 566 706 565.2 705.7 564.7C705.3 564.1 705.4 563.3 706.3 562.7Z" fill="none" stroke="#0a0a0a" stroke-width="0.6"/>
<path d="M851 495C851.2 494.6 852.8 493.8 854 493.4C855.2 493 857 493.2 858 492.6C859 492 859.2 491 860 490C860.8 489 861.8 487.4 863 486.6C864.2 485.8 865.7 485 867 485C868.3 485 869.9 485.8 871 486.6C872.1 487.4 873 488.6 873.6 490C874.2 491.4 874.3 493.3 874.4 495C874.5 496.7 874.3 498.5 874 500C873.7 501.5 872.9 503.2 872.4 504C871.9 504.8 870.8 504.6 871 505C871.2 505.4 872.6 506 873.6 506.6C874.6 507.2 876.1 507.7 877 508.6C877.9 509.5 878.3 510.8 879 512C879.7 513.2 880.2 515.1 881 516C881.8 516.9 882.8 517.2 884 517.4C885.2 517.6 887 517.6 888 517C889 516.4 889.6 515 890 514C890.4 513 890 511.7 890.4 511C890.8 510.3 891.7 509.8 892.4 510C893.1 510.2 894.1 511.2 894.4 512C894.7 512.8 894.4 514 894 515C893.6 516 892.7 516.9 892 518C891.3 519.1 890.4 520.3 889.6 521.4C888.8 522.5 887.9 523.7 887 524.6C886.1 525.5 885.2 526.5 884 526.6C882.8 526.7 881.2 525.6 880 525C878.8 524.4 877.8 522.8 877 523C876.2 523.2 875.6 524.8 875 526C874.4 527.2 874 528.7 873.6 530C873.2 531.3 872.7 532.8 872.4 534C872.1 535.2 871.6 536.5 872 537.4C872.4 538.3 873.8 538.6 875 539.4C876.2 540.2 877.7 541.1 879 542C880.3 542.9 881.8 544 883 545C884.2 546 885.3 547 886 548C886.7 549 887.2 549.8 887 551C886.8 552.2 885.7 553.5 885 555C884.3 556.5 883.7 558.3 883 560C882.3 561.7 881.5 563.5 881 565C880.5 566.5 880.2 567.9 880 569C879.8 570.1 879.5 570.7 880 571.4C880.5 572.1 882 572.5 883 573C884 573.5 885.2 574 886 574.6C886.8 575.2 887.9 576.1 887.6 576.6C887.3 577.1 885.4 577.3 884 577.4C882.6 577.5 880.7 577.3 879 577C877.3 576.7 875.2 576 874 575.4C872.8 574.8 871.9 574.2 871.6 573.4C871.3 572.6 872.1 571.8 872.4 570.6C872.7 569.4 873.3 567.6 873.6 566C873.9 564.4 874.1 562.7 874.4 561C874.7 559.3 875.2 557.5 875.6 556C876 554.5 876.6 553 877 552C877.4 551 878.3 550 878 550C877.7 550 876.2 551.4 875 552C873.8 552.6 872.3 553.4 871 553.4C869.7 553.4 868.3 552.5 867 552C865.7 551.5 864.2 550.7 863 550.6C861.8 550.5 861 550.9 860 551.4C859 551.9 858.2 552.8 857 553.4C855.8 554 854.2 554.5 853 555C851.8 555.5 851.2 556 850 556.6C848.8 557.2 847.7 557.8 846 558.6C844.3 559.4 842 560.5 840 561.4C838 562.3 835.8 563.1 834 564C832.2 564.9 830.3 565.9 829 566.6C827.7 567.3 826.9 568.1 826 568.2C825.1 568.3 824.1 568.1 823.6 567.4C823.1 566.7 822.6 565 823 564C823.4 563 824.5 562.4 826 561.4C827.5 560.4 829.7 559.1 832 558C834.3 556.9 837.7 556 840 555C842.3 554 844.3 553 846 552C847.7 551 848.8 550.7 850 549C851.2 547.3 852.3 544.3 853 542C853.7 539.7 854 537.5 854 535C854 532.5 853.3 529.3 853 527C852.7 524.7 852.8 522.6 852 521.4C851.2 520.2 849.5 520.6 848 520C846.5 519.4 844 519 843 518C842 517 842.3 515.2 842 514C841.7 512.8 840.7 511.8 841 511C841.3 510.2 842.5 509.8 844 509.4C845.5 509 847.8 509 850 508.6C852.2 508.2 854.8 507.9 857 507C859.2 506.1 862.2 504.2 863 503C863.8 501.8 862.5 501.2 862 500C861.5 498.8 861 496.7 860 496C859 495.3 857.2 495.6 856 495.6C854.8 495.6 853.8 496.1 853 496C852.2 495.9 850.8 495.4 851 495Z" fill="#fff" stroke="#0a0a0a" stroke-width="0.7" stroke-linejoin="round"/>
<path d="M817 486C817.7 485.2 818.8 484.7 820 484.4C821.2 484.1 822.7 483.7 824 484C825.3 484.3 826.9 485.1 828 486C829.1 486.9 829.9 487.9 830.6 489.4C831.3 490.9 831.9 493.1 832 495C832.1 496.9 831.5 499.3 831 500.6C830.5 501.9 829.6 502.7 829 503C828.4 503.3 827.7 502.3 827.6 502.6C827.5 502.9 827.7 504.2 828.4 505C829.1 505.8 830.6 506.6 831.6 507.6C832.6 508.6 833.6 509.9 834.4 511C835.2 512.1 835.9 514 836.4 514C836.9 514 837.5 512 837.6 511C837.7 510 836.8 508.9 837 508C837.2 507.1 838.3 505.8 839 505.6C839.7 505.4 841.2 506 841.4 506.6C841.6 507.2 840.3 508.3 840.4 509C840.5 509.7 842 509.8 842 510.6C842 511.4 840.9 512.4 840.4 514C839.9 515.6 839.6 518.5 839 520C838.4 521.5 837.7 522.6 837 523C836.3 523.4 835.6 523 835 522.6C834.4 522.2 834.4 520.7 833.6 520.6C832.8 520.5 830.7 520.9 830 522C829.3 523.1 829.9 525.5 829.6 527C829.3 528.5 828.9 529.8 828.4 531C827.9 532.2 826.1 532.9 826.6 534C827.1 535.1 829.8 536.3 831.3 537.5C832.8 538.7 834.4 539.9 835.4 541C836.4 542.1 837 542.8 837.1 543.9C837.2 545 836.7 546.3 836 547.4C835.3 548.5 834.2 549.5 833 550.6C831.8 551.7 830.3 552.8 829 553.8C827.7 554.8 826.4 555.8 825.5 556.7C824.5 557.7 823.8 558.5 823.4 559.6C823 560.7 823 562 823.1 563.1C823.3 564.3 823.6 565.6 824.1 566.6C824.6 567.6 825.3 568.4 826.1 569C826.8 569.6 828.1 570 828.4 570.4C828.7 570.8 827.9 570.8 827.6 571.5C827.3 572.2 826.9 573.6 826.4 574.6C825.9 575.6 825.3 577 824.9 577.7C824.5 578.4 824.1 579.1 823.7 578.9C823.4 578.7 822.9 577.5 822.7 576.6C822.4 575.6 822.2 573.9 822.2 573C822.2 572.1 822.9 572 822.4 571.3C822 570.6 820.7 569.9 819.6 569C818.5 568.1 816.8 566.7 815.6 565.7C814.4 564.7 812.7 563.9 812.6 562.9C812.5 561.9 814 560.9 815 559.6C816 558.3 817.4 556.5 818.5 555C819.5 553.5 821 551.6 821.4 550.3C821.8 549.1 820.9 547.6 820.6 547.4C820.3 547.2 820.2 548.4 819.6 549.2C819 549.9 817.8 550.9 816.7 552C815.7 553.1 814.5 554.3 813.2 555.6C811.9 556.9 810.5 558.2 809.2 559.6C807.8 561 806.3 562.5 805.1 563.7C803.8 565 802.4 566.1 801.6 567.2C800.8 568.3 800.2 569.3 800.1 570.1C800 571 800.5 571.7 801 572.2C801.5 572.7 802.6 572.6 803.1 573C803.6 573.4 804.1 574.2 803.9 574.8C803.7 575.4 802.5 576.4 801.6 576.6C800.7 576.7 799.7 576.3 798.7 575.7C797.6 575.1 796.2 573.8 795.2 573C794.1 572.2 792.9 571.6 792.2 570.7C791.5 569.9 790.7 569.1 791.1 568C791.5 566.9 793.5 564.8 794.6 564.3C795.7 563.8 796.8 565 797.5 564.9C798.2 564.8 798 564.5 798.7 563.7C799.3 562.9 800.5 561.4 801.6 560.2C802.7 559 803.8 557.8 805.1 556.7C806.3 555.7 808.1 554.8 809.2 553.8C810.2 552.8 810.8 552.1 811.3 550.9C811.7 549.7 811.8 548.6 812.1 546.8C812.3 544.9 812.8 541.9 812.7 539.8C812.5 537.7 811.6 536.1 811.3 534C810.9 531.9 810.6 529.3 810.6 527C810.5 524.7 810.8 521.8 810.9 520C811 518.2 811.5 516.8 811 516C810.5 515.2 809.2 515.3 808 515C806.8 514.7 805.3 514.3 804 514C802.7 513.7 801.3 513.5 800 513.4C798.7 513.3 797.5 513.7 796 513.6C794.5 513.5 792.5 513.2 791 513C789.5 512.8 788.3 512.6 787 512.6C785.7 512.6 784.2 513.2 783 513C781.8 512.8 780.6 512.1 780 511.6C779.4 511.1 779.2 510.4 779.6 510.2C780 510 781.3 510.5 782.4 510.6C783.5 510.7 784.7 511.1 786 511C787.3 510.9 788.7 510.5 790 510.2C791.3 509.9 792.5 509.5 794 509C795.5 508.5 797.5 507.9 799 507.4C800.5 506.9 801.7 506.5 803 506C804.3 505.5 806.2 505.4 807 504.6C807.8 503.8 807.7 502.1 808 501C808.3 499.9 808.3 498.8 809 498C809.7 497.2 811.1 496.8 812 496C812.9 495.2 813.8 494.2 814.4 493C815 491.8 815.2 490.2 815.6 489C816 487.8 816.3 486.8 817 486Z" fill="#fff" stroke="#0a0a0a" stroke-width="0.7" stroke-linejoin="round"/>
<path d="M820.6 547.4C821.3 547.2 823.7 546.6 825 546.2C826.3 545.8 827.8 545.2 828.4 545" fill="none" stroke="#0a0a0a" stroke-width="0.6"/>
<path d="M800.6 507.2C800.8 507.8 801.4 509.4 801.6 510.6C801.8 511.8 801.9 513.6 802 514.2" fill="none" stroke="#0a0a0a" stroke-width="0.6"/>
<path d="M985 425.8C986.1 424.8 987.6 423.6 989.2 423.5C990.9 423.4 993.3 424 994.9 424.9C996.5 425.9 997.6 427.5 998.6 429.2C999.5 430.8 1000.4 432.9 1000.6 434.8C1000.8 436.7 999.7 439.1 999.7 440.5C999.7 441.9 1000.9 442.4 1000.6 443.3C1000.2 444.3 998.7 445.5 997.7 446.2C996.8 446.9 995.8 446.9 994.9 447.6C994 448.3 992.4 449.2 992.1 450.4C991.7 451.6 992.2 453.5 992.9 454.7C993.6 455.8 995.3 456.3 996.3 457.5C997.4 458.7 998.4 460.1 999.2 461.7C999.9 463.4 1000.6 465.5 1000.6 467.4C1000.6 469.3 999.5 471.7 999.2 473.1C998.8 474.5 997.9 475.6 998.6 475.9C999.3 476.2 1001.7 475.5 1003.4 475.1C1005.1 474.6 1007.4 473.9 1009.1 473.1C1010.7 472.3 1012.4 471.2 1013.3 470.2C1014.3 469.3 1014 468 1014.7 467.4C1015.4 466.8 1016.8 466.1 1017.6 466.6C1018.4 467 1019.4 468.9 1019.5 470.2C1019.7 471.6 1019.2 473.5 1018.4 474.5C1017.6 475.4 1016.1 475.3 1014.7 475.9C1013.4 476.5 1012.1 477.1 1010.5 477.9C1008.8 478.7 1006.7 479.9 1004.8 480.7C1002.9 481.6 1000.3 482.4 999.2 483C998 483.6 997.8 483.2 997.7 484.4C997.6 485.6 998.6 488.2 998.6 490.1C998.6 492 997.6 493.8 997.7 495.7C997.8 497.6 998.4 499.3 999.2 501.4C999.9 503.5 1000.8 505.9 1002 508.5C1003.2 511.1 1004.6 513.9 1006.2 517C1007.9 520.1 1010.2 523.8 1011.9 526.9C1013.6 530 1014.7 532.3 1016.1 535.4C1017.6 538.5 1019 542 1020.4 545.3C1021.8 548.6 1023.4 552.4 1024.6 555.2C1025.9 558.1 1026.9 560.7 1028 562.3C1029.2 564 1030.4 564.9 1031.7 565.1C1033.1 565.4 1034.9 563.5 1036 563.7C1037.1 564 1038.2 565.6 1038.2 566.6C1038.2 567.5 1035.4 568.4 1036 569.4C1036.5 570.3 1039.8 571.3 1041.6 572.2C1043.4 573.2 1045.8 574 1046.7 575.1C1047.7 576.1 1048.2 577.9 1047.3 578.7C1046.5 579.6 1044 580 1041.6 580.2C1039.3 580.3 1035.7 580.1 1033.1 579.9C1030.5 579.6 1028 579.3 1026.1 578.7C1024.2 578.2 1022.6 577.8 1021.8 576.5C1021 575.2 1021 572.5 1021.2 570.8C1021.5 569.2 1023.6 568.2 1023.2 566.6C1022.9 564.9 1020.6 563.5 1019 560.9C1017.3 558.3 1015.2 554.3 1013.3 551C1011.4 547.7 1009.8 544.6 1007.6 541.1C1005.5 537.5 1002.9 533.3 1000.6 529.7C998.2 526.2 995.6 522.6 993.5 519.8C991.4 517 989.2 514.2 987.8 512.7C986.4 511.3 985.9 510.8 985 511.3C984 511.8 983.3 513.7 982.2 515.6C981 517.5 979.3 520.3 977.9 522.6C976.5 525 975.1 527.6 973.7 529.7C972.2 531.9 970.8 534.1 969.4 535.4C968 536.7 966.8 537.2 965.2 537.4C963.5 537.5 961.6 536.9 959.5 536.2C957.4 535.6 954.8 534.5 952.4 533.4C950 532.3 947.7 530.8 945.3 529.7C943 528.6 940.4 527.6 938.2 526.9C936.1 526.2 934.2 525.5 932.6 525.5C930.9 525.5 929.7 526.4 928.3 526.9C926.9 527.4 925.7 527.8 924.1 528.3C922.4 528.8 920.2 529.7 918.4 529.7C916.7 529.7 914.7 529 913.6 528.3C912.5 527.6 911.6 526.7 911.9 525.5C912.2 524.3 914.3 522.6 915.6 521.2C916.9 519.8 918.4 518.4 919.8 517C921.2 515.6 922.8 513.9 924.1 512.7C925.4 511.6 926.6 509.7 927.8 509.9C928.9 510.1 930.4 512.7 931.2 514.2C932 515.6 931.4 517.5 932.6 518.4C933.8 519.3 936.1 519.3 938.2 519.8C940.4 520.3 943 520.8 945.3 521.2C947.7 521.7 950 522.2 952.4 522.6C954.8 523.1 957.6 524.1 959.5 524.1C961.4 524.1 962.6 523.8 963.7 522.6C964.9 521.5 965.5 519.1 966.6 517C967.7 514.9 969.3 512.3 970.3 509.9C971.2 507.5 971.6 504.9 972.2 502.8C972.9 500.7 974.4 498.5 974.2 497.2C974.1 495.8 972.3 495.7 971.4 494.9C970.4 494 969.5 492.2 968.6 492.1C967.6 491.9 966.8 493.8 965.7 493.8C964.7 493.8 963.4 492.8 962.3 492.1C961.3 491.3 960.1 490.7 959.5 489.2C958.9 487.7 959.2 485.2 958.9 483C958.7 480.8 958.3 478.3 958.1 475.9C957.8 473.5 957.5 471.2 957.5 468.8C957.5 466.5 957.5 463.6 958.1 461.7C958.6 459.9 959.5 458.8 960.9 457.5C962.3 456.2 964.7 455.3 966.6 454.1C968.5 452.9 970.3 451.6 972.2 450.4C974.1 449.2 976 447.9 977.9 446.7C979.8 445.5 982.4 444.1 983.6 443.3C984.7 442.5 985.2 442.3 985 441.9C984.7 441.5 983.1 440.9 982.2 441.1C981.2 441.2 980.3 442.6 979.3 442.8C978.4 442.9 977.2 442.5 976.5 441.9C975.8 441.3 975.2 440 975.1 439.1C975 438.1 976.1 437 975.9 436.2C975.8 435.4 974.1 435 974.2 434.3C974.3 433.6 975.6 432.5 976.5 432C977.3 431.5 978.6 431.2 979.3 431.4C980 431.7 980.2 433.8 980.7 433.4C981.3 433 982 430.4 982.7 429.2C983.4 427.9 983.9 426.7 985 425.8Z" fill="#fff" stroke="#0a0a0a" stroke-width="0.7" stroke-linejoin="round"/>
<path d="M965.7 493.8C966.1 492.7 968.1 489 968 487.2C967.9 485.4 965.9 484.9 965.2 483C964.4 481.1 964.1 478.3 963.7 475.9C963.4 473.5 962.9 470.9 962.9 468.8C962.9 466.7 962.4 464.5 963.7 463.2C965.1 461.8 968.7 461.5 970.8 460.9C972.9 460.3 974.8 458.7 976.5 459.8C978.1 460.8 979.7 464.2 980.7 467.4C981.8 470.6 982.7 475.9 982.7 478.7C982.7 481.6 981.9 482 980.7 484.4C979.6 486.8 977 490.8 975.9 492.9C974.8 495 974.5 496.4 974.2 497.2" fill="none" stroke="#0a0a0a" stroke-width="0.7"/></g>
</svg>
</body>
</html>
